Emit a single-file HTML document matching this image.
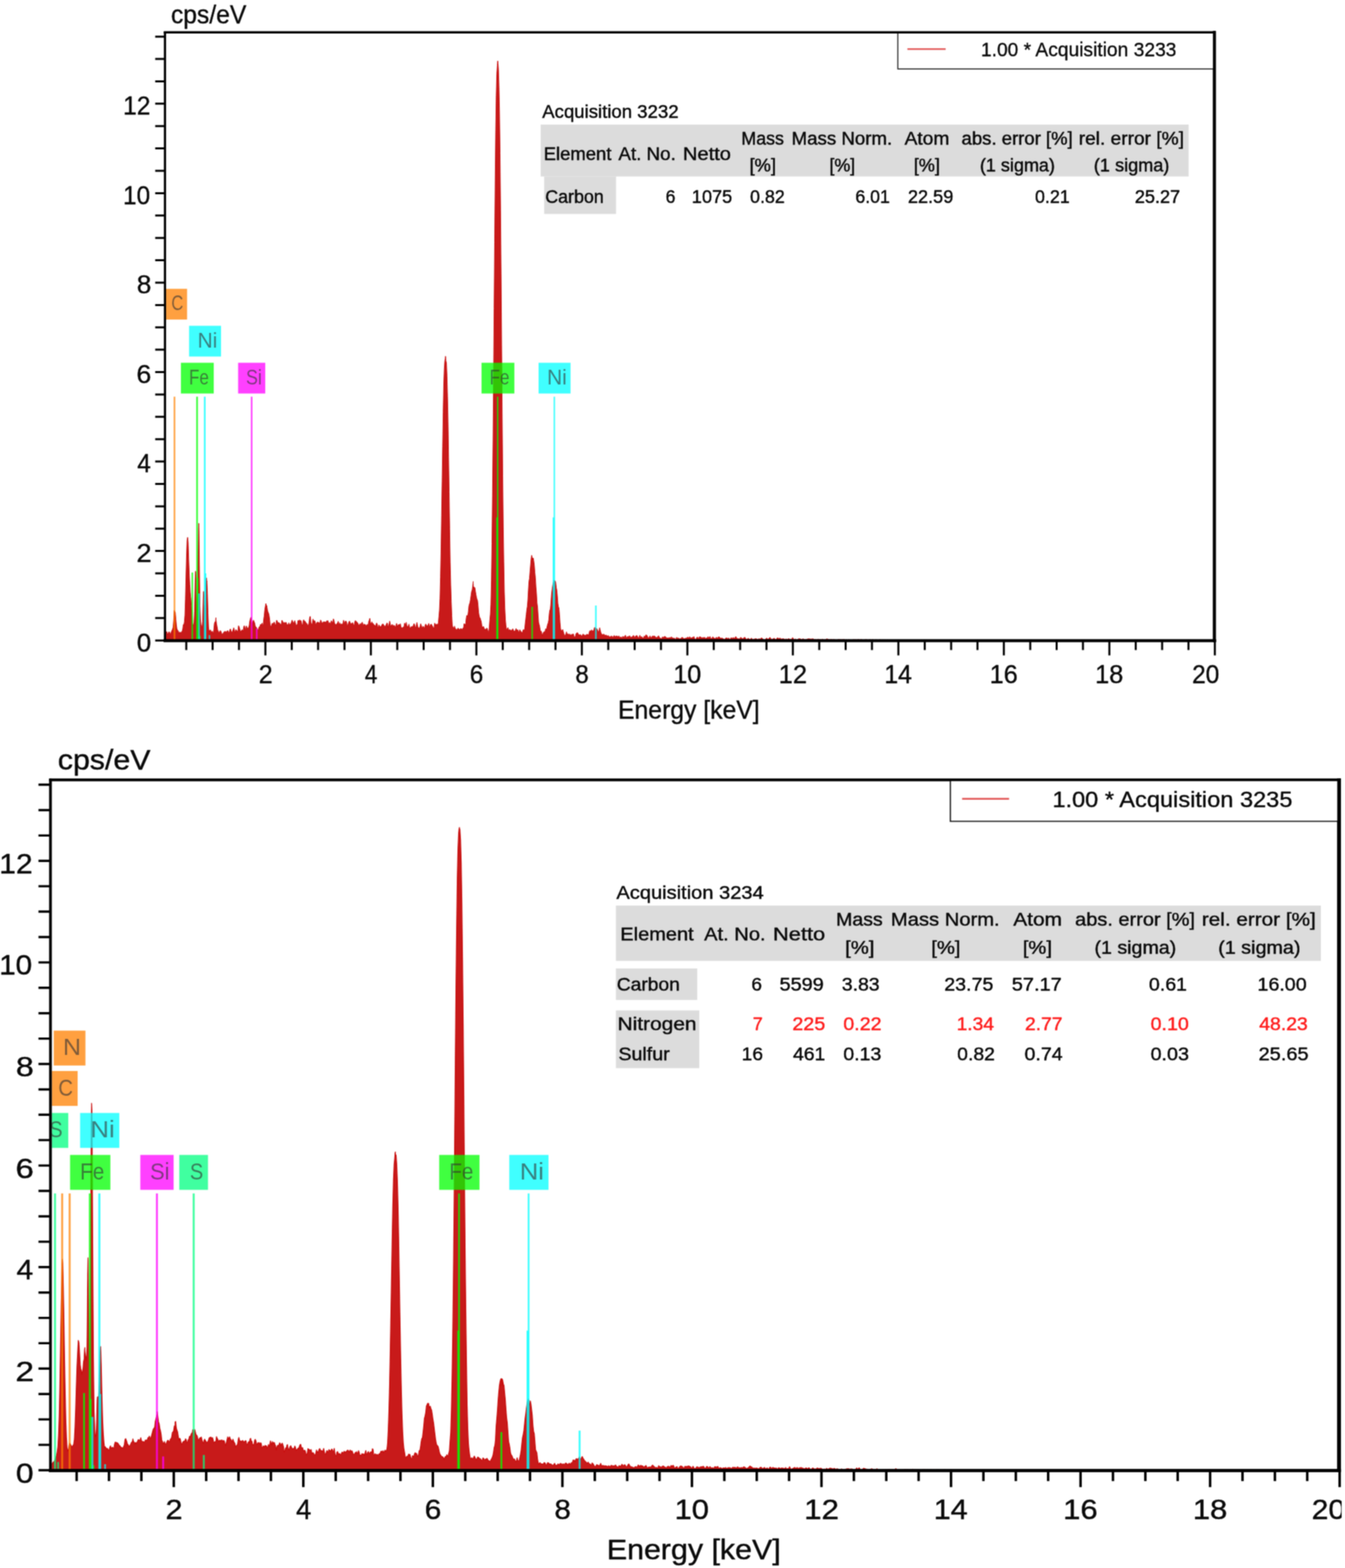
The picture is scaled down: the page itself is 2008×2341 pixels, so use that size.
<!DOCTYPE html>
<html lang="en"><head><meta charset="utf-8"><title>EDS spectra</title>
<style>
html,body{margin:0;padding:0;background:#fff;overflow:hidden}
svg{display:block}
text{font-family:"Liberation Sans",sans-serif;}
</style></head><body>
<svg width="2008" height="2341" viewBox="0 0 2008 2341">
<rect width="2008" height="2341" fill="#fff"/>
<filter id="soft" x="0" y="0" width="2008" height="2341" filterUnits="userSpaceOnUse" color-interpolation-filters="sRGB"><feConvolveMatrix order="3" kernelMatrix="1 2 1 2 4 2 1 2 1" divisor="16" edgeMode="duplicate" preserveAlpha="false"/></filter>
<g filter="url(#soft)">
<clipPath id="c2clip"><rect x="0" y="1090" width="2003" height="1251"/></clipPath>
<g id="chart1">
<clipPath id="clip1"><rect x="247.9" y="48.4" width="1565.5" height="907.8"/></clipPath>
<g clip-path="url(#clip1)">
<path d="M247.3,956.2L247.3,946.0L248.1,943.8L248.9,942.8L249.7,945.4L250.5,947.0L251.3,945.1L252.1,943.3L252.9,943.4L253.7,946.8L254.5,947.2L255.3,944.2L256.1,942.8L256.9,940.8L257.7,939.1L258.5,936.1L259.3,926.1L260.1,911.4L260.7,912.2L260.9,915.5L261.1,915.6L261.5,913.7L261.7,914.5L262.5,924.3L263.3,933.1L264.1,938.6L264.9,940.7L265.7,941.2L266.5,943.6L267.3,945.8L268.1,943.5L268.9,944.7L269.7,944.2L270.5,944.5L271.3,942.8L272.1,942.3L272.9,938.4L273.7,932.5L274.5,933.3L275.3,928.5L276.1,918.8L276.9,894.4L277.7,861.1L278.5,830.0L279.3,806.8L279.4,806.2L279.8,804.0L280.1,802.2L280.2,802.7L280.9,810.0L281.7,834.5L282.5,855.9L283.3,872.4L283.8,880.0L284.1,885.7L284.2,885.5L284.6,891.0L284.9,892.7L285.7,904.7L286.5,918.5L287.3,929.1L288.1,932.5L288.9,934.0L289.7,930.0L290.5,912.3L291.3,869.5L291.5,861.7L291.9,852.7L292.1,854.5L292.3,859.0L292.9,887.9L293.7,911.9L294.5,906.2L295.0,885.7L295.3,865.6L295.4,859.2L295.8,827.6L296.1,804.3L296.3,790.0L296.7,781.2L296.9,782.0L297.1,791.8L297.7,842.9L298.5,904.3L299.3,923.9L300.1,932.7L300.9,935.5L301.7,936.2L302.5,927.5L303.3,894.8L303.7,883.9L304.1,882.7L304.1,883.1L304.5,888.7L304.9,902.2L305.7,915.5L306.5,903.8L307.3,879.4L308.0,865.5L308.1,865.2L308.4,862.8L308.8,868.5L308.9,867.6L309.7,886.5L310.5,915.2L311.3,936.0L312.1,941.8L312.9,941.7L313.7,940.8L314.5,940.6L315.3,944.0L316.1,943.5L316.9,942.4L317.7,944.5L318.5,946.4L319.3,939.2L320.1,930.8L320.9,928.5L321.6,930.5L321.7,930.1L322.0,926.0L322.4,922.1L322.5,925.5L323.3,931.5L324.1,935.4L324.9,940.4L325.7,941.4L326.5,944.9L327.3,945.3L328.1,942.8L328.9,941.4L329.7,942.3L330.5,944.3L331.3,947.3L332.1,946.5L332.9,945.6L333.7,944.7L334.5,943.2L335.3,943.4L336.1,942.3L336.9,943.0L337.7,943.7L338.5,942.9L339.3,941.8L340.1,941.5L340.9,943.3L341.7,944.2L342.5,944.2L343.3,939.6L344.1,939.0L344.9,941.9L345.7,943.7L346.5,944.3L347.3,942.1L348.1,939.9L348.9,937.3L349.7,940.1L350.5,944.0L351.3,945.2L352.1,939.8L352.9,940.6L353.7,943.4L354.5,942.2L355.3,941.2L356.1,934.1L356.9,935.5L357.7,938.2L358.5,941.0L359.3,943.7L360.1,941.7L360.9,941.6L361.7,939.8L362.5,942.8L363.3,940.5L364.1,934.8L364.9,934.1L365.7,939.6L366.5,940.3L367.3,935.3L368.1,934.6L368.9,937.8L369.7,937.9L370.5,937.2L371.3,936.8L372.1,933.3L372.9,927.2L373.7,924.2L374.5,921.6L375.3,925.1L375.3,927.7L375.7,929.1L376.1,928.8L376.1,931.5L376.9,932.3L377.7,927.3L378.5,925.8L379.3,928.0L380.1,929.7L380.9,933.6L381.7,936.6L382.5,936.3L383.3,937.5L384.1,939.9L384.9,941.4L385.7,940.2L386.5,936.6L387.3,935.5L388.1,935.2L388.9,932.1L389.7,932.8L390.5,931.7L391.3,930.3L392.1,933.6L392.9,933.2L393.7,924.6L394.5,919.2L395.3,910.5L396.1,905.5L396.9,901.0L397.3,902.5L397.7,907.3L398.1,903.9L398.5,906.0L399.3,910.6L400.1,913.7L400.9,915.4L401.7,918.6L402.5,924.1L403.3,932.3L404.1,934.6L404.9,936.9L405.7,932.6L406.5,930.3L407.3,932.1L408.1,930.6L408.9,929.2L409.7,928.8L410.5,932.4L411.3,933.8L412.1,931.6L412.9,926.0L413.7,926.5L414.5,929.6L415.3,929.7L416.1,929.6L416.9,929.7L417.7,930.7L418.5,932.0L419.3,933.8L420.1,931.1L420.9,926.0L421.7,927.1L422.5,929.3L423.3,930.1L424.1,929.3L424.9,929.2L425.7,930.6L426.5,929.3L427.3,929.2L428.1,931.6L428.9,932.6L429.7,933.1L430.5,931.8L431.3,929.7L432.1,934.3L432.9,932.0L433.7,931.1L434.5,930.8L435.3,928.1L436.1,925.8L436.9,927.6L437.7,929.4L438.5,930.3L439.3,928.5L440.1,926.6L440.9,929.5L441.7,932.5L442.5,933.2L443.3,933.1L444.1,931.6L444.9,926.3L445.7,926.6L446.5,927.3L447.3,925.4L448.1,928.1L448.9,926.3L449.7,927.0L450.5,932.8L451.3,934.2L452.1,931.2L452.9,925.8L453.7,925.4L454.5,929.5L455.3,927.1L456.1,928.8L456.9,930.2L457.7,930.4L458.5,931.2L459.3,934.1L460.1,933.5L460.9,932.0L461.7,926.6L462.5,920.8L463.3,920.4L464.1,928.6L464.9,933.5L465.7,931.8L466.5,929.7L467.3,924.1L468.1,926.2L468.9,929.2L469.7,926.6L470.5,928.0L471.3,932.7L472.1,931.6L472.9,929.8L473.7,928.8L474.5,928.7L475.3,929.4L476.1,929.2L476.9,930.9L477.7,930.4L478.5,925.7L479.3,926.5L480.1,929.0L480.9,932.7L481.7,930.1L482.5,928.3L483.3,930.8L484.1,927.9L484.9,929.0L485.7,928.7L486.5,929.1L487.3,927.9L488.1,926.6L488.9,928.2L489.7,926.6L490.5,930.9L491.3,931.8L492.1,929.4L492.9,931.9L493.7,930.6L494.5,926.8L495.3,927.5L496.1,932.6L496.9,928.4L497.7,923.9L498.5,925.6L499.3,930.0L500.1,931.8L500.9,932.0L501.7,933.2L502.5,931.7L503.3,930.8L504.1,929.6L504.9,927.6L505.7,930.9L506.5,933.0L507.3,929.7L508.1,932.3L508.9,932.3L509.7,931.2L510.5,932.1L511.3,933.2L512.1,930.1L512.9,925.9L513.7,930.3L514.5,930.4L515.3,927.4L516.1,927.3L516.9,927.5L517.7,929.5L518.5,935.3L519.3,934.2L520.1,930.7L520.9,928.5L521.7,927.0L522.5,928.9L523.3,931.0L524.1,931.2L524.9,931.2L525.7,930.0L526.5,929.5L527.3,931.9L528.1,933.9L528.9,932.9L529.7,928.2L530.5,926.5L531.3,927.2L532.1,927.8L532.9,928.7L533.7,930.1L534.5,930.6L535.3,933.5L536.1,933.3L536.9,932.8L537.7,930.8L538.5,932.4L539.3,931.9L540.1,929.7L540.9,928.8L541.7,933.2L542.5,933.8L543.3,931.4L544.1,933.3L544.9,932.0L545.7,932.9L546.5,933.9L547.3,935.6L548.1,932.1L548.9,933.3L549.7,932.9L550.5,927.4L551.3,926.1L552.1,923.1L552.9,928.8L553.7,932.6L554.5,931.0L555.3,928.4L556.1,930.7L556.9,930.8L557.7,931.4L558.5,933.9L559.3,933.1L560.1,934.3L560.9,934.9L561.7,930.8L562.5,930.2L563.3,932.4L564.1,936.0L564.9,937.4L565.7,933.0L566.5,933.7L567.3,936.5L568.1,935.1L568.9,936.1L569.7,933.7L570.5,932.1L571.3,931.6L572.1,931.8L572.9,933.0L573.7,935.5L574.5,934.9L575.3,934.4L576.1,933.5L576.9,931.9L577.7,930.0L578.5,930.6L579.3,937.2L580.1,934.1L580.9,931.4L581.7,927.2L582.5,930.4L583.3,935.7L584.1,933.7L584.9,933.2L585.7,932.0L586.5,934.8L587.3,934.2L588.1,933.6L588.9,933.9L589.7,935.9L590.5,937.4L591.3,932.8L592.1,930.7L592.9,933.4L593.7,935.5L594.5,933.2L595.3,932.0L596.1,933.3L596.9,932.5L597.7,931.1L598.5,935.3L599.3,937.0L600.1,938.7L600.9,937.0L601.7,936.4L602.5,936.8L603.3,934.5L604.1,930.2L604.9,932.8L605.7,932.4L606.5,928.9L607.3,933.5L608.1,937.3L608.9,934.8L609.7,934.3L610.5,931.7L611.3,935.8L612.1,937.2L612.9,937.8L613.7,935.6L614.5,936.1L615.3,935.1L616.1,935.3L616.9,934.9L617.7,931.6L618.5,931.2L619.3,933.8L620.1,936.8L620.9,936.9L621.7,932.5L622.5,929.0L623.3,934.0L624.1,936.7L624.9,937.1L625.7,937.8L626.5,937.3L627.3,934.4L628.1,931.3L628.9,933.6L629.7,936.6L630.5,938.1L631.3,935.1L632.1,935.2L632.9,937.9L633.7,937.7L634.5,934.6L635.3,931.8L636.1,932.2L636.9,933.8L637.7,934.9L638.5,934.1L639.3,932.8L640.1,930.7L640.9,935.8L641.7,935.4L642.5,932.4L643.3,933.3L644.1,931.8L644.9,933.7L645.7,934.7L646.5,936.5L647.3,938.8L648.1,936.3L648.9,930.3L649.7,931.5L650.5,932.6L651.3,932.1L652.1,932.2L652.9,931.9L653.7,932.8L654.5,929.4L655.3,920.4L656.1,911.2L656.9,893.5L657.7,861.5L658.5,820.0L659.3,769.5L660.1,718.5L660.9,666.5L661.7,615.7L662.5,574.0L663.3,551.2L664.1,539.2L664.7,535.6L664.9,534.2L665.1,531.8L665.5,533.1L665.7,538.5L666.5,541.8L667.3,561.2L668.1,591.4L668.9,629.2L669.7,682.5L670.5,734.4L671.3,789.3L672.1,839.8L672.9,873.7L673.7,898.6L674.5,919.6L675.3,934.1L676.1,935.9L676.9,937.3L677.7,938.2L678.5,934.7L679.3,937.2L680.1,939.0L680.9,939.3L681.7,940.3L682.5,940.1L683.3,938.3L684.1,937.8L684.9,939.0L685.7,939.6L686.5,940.6L687.3,938.5L688.1,939.0L688.9,938.6L689.7,939.7L690.5,938.9L691.3,937.7L692.1,936.9L692.9,931.0L693.7,932.4L694.5,933.1L695.3,930.7L696.1,922.8L696.9,918.7L697.7,919.3L698.5,919.3L699.3,912.6L700.1,904.6L700.9,901.8L701.7,899.3L702.5,894.6L703.3,888.5L704.1,883.1L704.9,880.9L705.7,875.6L706.5,867.9L706.5,870.6L706.9,877.6L707.3,876.7L707.3,876.4L708.1,877.0L708.9,877.1L709.7,882.4L710.5,887.2L711.3,891.5L712.1,894.6L712.9,896.4L713.7,903.8L714.5,914.2L715.3,918.9L716.1,922.1L716.9,922.7L717.7,925.6L718.5,928.1L719.3,933.4L720.1,938.1L720.9,935.7L721.7,935.2L722.5,936.7L723.3,939.7L724.1,939.0L724.9,939.8L725.7,939.8L726.5,937.8L727.3,938.0L728.1,940.9L728.9,943.5L729.7,943.4L730.5,936.1L731.3,925.5L732.1,917.2L732.9,902.2L733.7,866.2L734.5,811.4L735.3,740.5L736.1,657.2L736.9,562.4L737.7,460.5L738.5,361.3L739.3,269.2L740.1,194.8L740.9,142.6L741.7,110.4L742.5,97.8L742.7,94.4L743.1,90.9L743.3,92.2L743.5,94.7L744.1,103.3L744.9,127.4L745.7,166.2L746.5,228.5L747.3,313.9L748.1,408.8L748.9,514.8L749.7,616.8L750.5,710.2L751.3,786.0L752.1,838.8L752.9,883.2L753.7,908.1L754.5,925.1L755.3,933.7L756.1,939.3L756.9,940.3L757.7,937.7L758.5,937.1L759.3,941.3L760.1,940.9L760.9,939.7L761.7,941.3L762.5,940.8L763.3,941.9L764.1,940.5L764.9,939.5L765.7,938.8L766.5,940.9L767.3,943.1L768.1,941.8L768.9,942.8L769.7,940.2L770.5,938.3L771.3,940.3L772.1,941.9L772.9,940.1L773.7,941.8L774.5,944.4L775.3,942.7L776.1,940.1L776.9,941.9L777.7,942.5L778.5,943.8L779.3,945.6L780.1,943.5L780.9,940.8L781.7,939.8L782.5,940.4L783.3,940.2L784.1,931.3L784.9,924.6L785.7,917.6L786.5,910.3L787.3,905.4L788.1,896.0L788.9,881.2L789.7,868.3L790.5,863.5L791.3,853.2L792.1,844.0L792.9,834.4L793.7,828.9L794.4,832.2L794.5,835.0L794.8,832.7L795.2,833.7L795.3,835.3L796.1,833.1L796.9,837.7L797.7,843.9L798.5,854.5L799.3,862.4L800.1,876.1L800.9,885.9L801.7,899.9L802.5,906.0L803.3,918.1L804.1,929.2L804.9,932.2L805.7,935.5L806.5,940.7L807.3,942.4L808.1,942.5L808.9,945.4L809.7,949.5L810.5,946.6L811.3,944.0L812.1,943.4L812.9,943.0L813.7,943.2L814.5,938.9L815.3,939.1L816.1,938.7L816.9,934.9L817.7,931.6L818.5,929.7L819.3,925.4L820.1,915.9L820.9,910.9L821.7,909.1L822.5,900.0L823.3,888.2L824.1,881.1L824.9,875.4L825.7,870.9L826.5,868.4L827.2,866.1L827.3,870.4L827.6,871.1L828.0,868.8L828.1,867.1L828.9,867.3L829.7,869.9L830.5,877.3L831.3,881.1L832.1,889.7L832.9,901.0L833.7,905.9L834.5,908.0L835.3,917.7L836.1,929.9L836.9,939.0L837.7,940.5L838.5,941.8L839.3,941.3L840.1,939.8L840.9,942.7L841.7,945.5L842.5,948.2L843.3,948.9L844.1,947.9L844.9,946.3L845.7,943.2L846.5,946.6L847.3,947.7L848.1,945.9L848.9,947.2L849.7,948.4L850.5,946.3L851.3,947.9L852.1,949.3L852.9,947.5L853.7,946.9L854.5,947.5L855.3,946.4L856.1,946.6L856.9,949.5L857.7,952.0L858.5,952.0L859.3,948.5L860.1,945.8L860.9,945.3L861.7,944.7L862.5,944.8L863.3,946.6L864.1,947.2L864.9,949.3L865.7,947.6L866.5,947.3L867.3,948.2L868.1,949.2L868.9,949.7L869.7,947.8L870.5,946.5L871.3,947.7L872.1,947.7L872.9,948.5L873.7,948.2L874.5,948.7L875.3,947.5L876.1,947.2L876.9,946.8L877.7,947.8L878.5,948.3L879.3,946.1L880.1,942.7L880.9,941.4L881.7,942.9L882.5,941.4L883.3,940.3L884.1,941.4L884.9,943.4L885.7,941.4L886.5,940.8L887.3,937.4L888.1,936.6L888.9,939.0L889.2,943.2L889.6,939.0L889.7,938.1L890.0,940.5L890.5,938.1L891.3,938.8L892.1,940.6L892.9,942.4L893.7,943.5L894.5,941.2L895.3,937.1L896.1,940.9L896.9,943.8L897.7,945.9L898.5,946.9L899.3,947.6L900.1,947.7L900.9,946.5L901.7,947.2L902.5,947.6L903.3,949.2L904.1,948.1L904.9,948.4L905.7,948.4L906.5,949.6L907.3,950.2L908.1,948.7L908.9,949.8L909.7,950.5L910.5,950.9L911.3,950.2L912.1,950.3L912.9,949.7L913.7,949.8L914.5,951.3L915.3,951.9L916.1,949.9L916.9,948.7L917.7,949.5L918.5,951.1L919.3,949.9L920.1,949.5L920.9,949.7L921.7,949.8L922.5,950.5L923.3,949.9L924.1,949.4L924.9,951.1L925.7,952.3L926.5,951.0L927.3,950.9L928.1,952.7L928.9,951.7L929.7,950.1L930.5,950.4L931.3,950.9L932.1,951.6L932.9,949.4L933.7,948.3L934.5,950.4L935.3,951.9L936.1,951.8L936.9,950.0L937.7,950.5L938.5,951.1L939.3,949.4L940.1,949.2L940.9,950.4L941.7,952.5L942.5,951.3L943.3,950.6L944.1,951.6L944.9,949.7L945.7,948.6L946.5,949.5L947.3,951.5L948.1,951.6L948.9,949.8L949.7,949.0L950.5,948.8L951.3,949.2L952.1,950.8L952.9,952.1L953.7,952.8L954.5,950.0L955.3,948.4L956.1,950.8L956.9,951.4L957.7,950.4L958.5,950.9L959.3,952.6L960.1,952.7L960.9,951.8L961.7,949.6L962.5,950.8L963.3,949.8L964.1,948.1L964.9,947.9L965.7,948.4L966.5,949.4L967.3,952.0L968.1,952.2L968.9,952.2L969.7,950.8L970.5,949.1L971.3,951.9L972.1,951.7L972.9,951.9L973.7,949.8L974.5,949.6L975.3,950.6L976.1,949.3L976.9,950.1L977.7,949.8L978.5,950.8L979.3,951.9L980.1,952.0L980.9,951.4L981.7,950.7L982.5,950.2L983.3,949.0L984.1,951.0L984.9,952.2L985.7,952.6L986.5,953.0L987.3,953.5L988.1,952.7L988.9,950.9L989.7,951.2L990.5,951.5L991.3,950.9L992.1,950.1L992.9,950.3L993.7,950.8L994.5,952.0L995.3,952.3L996.1,952.5L996.9,952.2L997.7,952.6L998.5,952.3L999.3,952.0L1000.1,952.0L1000.9,952.2L1001.7,951.8L1002.5,950.7L1003.3,952.0L1004.1,952.8L1004.9,952.2L1005.7,953.1L1006.5,953.2L1007.3,952.6L1008.1,954.5L1008.9,955.4L1009.7,952.2L1010.5,951.3L1011.3,953.4L1012.1,953.1L1012.9,952.2L1013.7,953.9L1014.5,953.8L1015.3,953.4L1016.1,953.1L1016.9,953.6L1017.7,951.7L1018.5,951.7L1019.3,951.8L1020.1,952.9L1020.9,954.2L1021.7,953.2L1022.5,953.3L1023.3,952.7L1024.1,952.9L1024.9,952.7L1025.7,952.1L1026.5,951.2L1027.3,951.4L1028.1,952.8L1028.9,952.0L1029.7,950.6L1030.5,951.4L1031.3,952.7L1032.1,952.6L1032.9,952.2L1033.7,951.4L1034.5,951.7L1035.3,951.1L1036.1,950.4L1036.9,953.1L1037.7,954.1L1038.5,954.7L1039.3,954.0L1040.1,951.9L1040.9,951.2L1041.7,951.3L1042.5,953.9L1043.3,953.3L1044.1,950.9L1044.9,950.7L1045.7,950.9L1046.5,951.3L1047.3,952.1L1048.1,952.4L1048.9,952.1L1049.7,951.7L1050.5,952.2L1051.3,951.7L1052.1,951.4L1052.9,953.3L1053.7,953.3L1054.5,952.3L1055.3,952.6L1056.1,952.1L1056.9,950.5L1057.7,951.6L1058.5,952.4L1059.3,950.9L1060.1,950.3L1060.9,953.0L1061.7,953.5L1062.5,952.9L1063.3,952.5L1064.1,950.7L1064.9,951.6L1065.7,952.7L1066.5,952.6L1067.3,953.4L1068.1,953.4L1068.9,952.1L1069.7,951.2L1070.5,953.9L1071.3,952.6L1072.1,951.2L1072.9,951.1L1073.7,950.7L1074.5,951.8L1075.3,952.5L1076.1,953.1L1076.9,953.1L1077.7,952.0L1078.5,953.4L1079.3,953.4L1080.1,953.5L1080.9,954.3L1081.7,955.1L1082.5,953.8L1083.3,952.8L1084.1,952.5L1084.9,952.2L1085.7,953.0L1086.5,953.4L1087.3,952.7L1088.1,952.6L1088.9,954.0L1089.7,954.8L1090.5,954.0L1091.3,952.1L1092.1,952.1L1092.9,953.5L1093.7,953.0L1094.5,951.9L1095.3,951.9L1096.1,953.3L1096.9,953.1L1097.7,951.3L1098.5,950.3L1099.3,951.5L1100.1,953.5L1100.9,953.2L1101.7,953.3L1102.5,953.5L1103.3,953.9L1104.1,953.8L1104.9,952.8L1105.7,951.6L1106.5,952.0L1107.3,952.7L1108.1,953.3L1108.9,953.9L1109.7,953.3L1110.5,952.1L1111.3,951.8L1112.1,951.4L1112.9,952.6L1113.7,953.7L1114.5,954.5L1115.3,953.9L1116.1,954.2L1116.9,952.8L1117.7,953.5L1118.5,953.9L1119.3,954.6L1120.1,954.4L1120.9,954.0L1121.7,952.7L1122.5,953.2L1123.3,954.8L1124.1,955.3L1124.9,954.1L1125.7,954.1L1126.5,954.3L1127.3,953.4L1128.1,953.5L1128.9,953.6L1129.7,954.1L1130.5,954.2L1131.3,954.4L1132.1,954.7L1132.9,953.4L1133.7,953.5L1134.5,954.8L1135.3,953.6L1136.1,952.6L1136.9,952.8L1137.7,952.6L1138.5,953.5L1139.3,954.0L1140.1,954.8L1140.9,955.1L1141.7,955.5L1142.5,954.7L1143.3,953.6L1144.1,953.0L1144.9,952.7L1145.7,953.6L1146.5,954.3L1147.3,953.7L1148.1,953.3L1148.9,952.0L1149.7,951.7L1150.5,952.9L1151.3,954.5L1152.1,954.4L1152.9,954.0L1153.7,954.2L1154.5,953.5L1155.3,953.0L1156.1,953.0L1156.9,953.7L1157.7,954.6L1158.5,954.7L1159.3,953.9L1160.1,952.6L1160.9,952.2L1161.7,952.8L1162.5,953.3L1163.3,953.2L1164.1,952.9L1164.9,952.7L1165.7,953.4L1166.5,954.6L1167.3,953.6L1168.1,953.6L1168.9,954.1L1169.7,953.7L1170.5,953.7L1171.3,954.4L1172.1,955.2L1172.9,954.2L1173.7,953.7L1174.5,954.3L1175.3,955.1L1176.1,954.0L1176.9,953.5L1177.7,953.7L1178.5,953.9L1179.3,954.4L1180.1,954.6L1180.9,954.0L1181.7,954.3L1182.5,953.4L1183.3,951.8L1184.1,953.0L1184.9,954.3L1185.7,955.2L1186.5,954.4L1187.3,953.9L1188.1,954.6L1188.9,955.1L1189.7,955.7L1190.5,954.5L1191.3,954.4L1192.1,953.7L1192.9,953.3L1193.7,953.9L1194.5,953.7L1195.3,954.0L1196.1,954.5L1196.9,954.8L1197.7,954.7L1198.5,953.6L1199.3,953.8L1200.1,954.7L1200.9,954.3L1201.7,955.0L1202.5,955.3L1203.3,954.3L1204.1,954.8L1204.9,954.0L1205.7,953.9L1206.5,953.8L1207.3,953.8L1208.1,953.6L1208.9,954.0L1209.7,954.1L1210.5,954.0L1211.3,953.9L1212.1,954.4L1212.9,953.7L1213.7,953.5L1214.5,954.2L1215.3,954.5L1216.1,954.9L1216.9,954.8L1217.7,954.6L1218.5,955.0L1219.3,955.2L1220.1,954.8L1220.9,954.5L1221.7,954.3L1222.5,954.6L1223.3,955.3L1224.1,954.3L1224.9,954.7L1225.7,955.3L1226.5,955.0L1227.3,954.4L1228.1,954.3L1228.9,954.8L1229.7,955.1L1230.5,955.6L1231.3,955.0L1232.1,954.9L1232.9,954.9L1233.7,954.1L1234.5,953.5L1235.3,954.1L1236.1,954.8L1236.9,954.2L1237.7,954.8L1238.5,955.1L1239.3,955.1L1240.1,954.7L1240.9,954.5L1241.7,954.8L1242.5,955.1L1243.3,955.1L1244.1,955.0L1244.9,954.6L1245.7,955.1L1246.5,955.2L1247.3,955.3L1248.1,955.5L1248.9,955.5L1249.7,955.7L1250.5,955.0L1251.3,954.8L1252.1,954.9L1252.9,954.5L1253.7,955.1L1254.5,954.9L1255.3,954.9L1256.1,955.3L1256.9,955.2L1257.7,954.7L1258.5,954.9L1259.3,954.8L1260.1,954.4L1260.9,955.1L1261.7,956.1L1262.5,955.7L1263.3,955.0L1264.1,955.3L1264.9,956.0L1265.7,956.2L1266.5,955.2L1267.3,954.7L1268.1,955.9L1268.9,956.2L1269.7,955.4L1270.5,955.5L1271.3,955.5L1272.1,955.6L1272.9,955.7L1273.7,955.1L1274.5,954.8L1275.3,955.1L1276.1,955.4L1276.9,955.0L1277.7,955.1L1278.5,955.2L1279.3,955.6L1280.1,955.1L1280.9,954.8L1281.7,954.7L1282.5,955.1L1283.3,955.3L1284.1,955.4L1284.9,955.0L1285.7,954.8L1286.5,954.9L1287.3,955.6L1288.1,956.0L1288.9,955.6L1289.7,955.6L1290.5,955.7L1291.3,955.2L1292.1,954.9L1292.9,955.0L1293.7,954.9L1294.5,955.3L1295.3,955.9L1296.1,955.9L1296.9,955.6L1297.7,955.2L1298.5,955.0L1299.3,955.2L1300.1,955.2L1300.9,955.7L1301.7,955.5L1302.5,954.9L1303.3,955.1L1304.1,955.3L1304.9,956.2L1305.7,956.2L1306.5,956.0L1307.3,955.1L1308.1,954.9L1308.9,955.7L1309.7,956.1L1310.5,956.2L1311.3,956.0L1312.1,955.6L1312.9,955.5L1313.7,954.9L1314.5,955.3L1315.3,955.8L1316.1,955.7L1316.9,955.6L1317.7,955.3L1318.5,955.3L1319.3,955.6L1320.1,955.4L1320.9,955.4L1321.7,955.6L1322.5,955.6L1323.3,955.5L1324.1,955.8L1324.9,955.8L1325.7,955.4L1326.5,955.7L1327.3,955.9L1328.1,955.8L1328.9,956.2L1329.7,956.0L1330.5,956.2L1331.3,956.2L1332.1,956.2L1332.9,956.1L1333.7,955.6L1334.5,955.9L1335.3,956.0L1336.1,955.5L1336.9,955.7L1337.7,955.5L1338.5,956.0L1339.3,956.1L1340.1,955.5L1340.9,955.7L1341.7,955.6L1342.5,955.6L1343.3,956.1L1344.1,956.0L1344.9,956.0L1345.7,955.8L1346.5,956.0L1347.3,956.2L1348.1,955.9L1348.9,955.7L1349.7,955.9L1350.5,955.8L1351.3,956.0L1352.1,955.9L1352.9,955.8L1353.7,955.8L1354.5,955.5L1355.3,955.6L1356.1,955.6L1356.9,955.7L1357.7,955.9L1358.5,956.1L1359.3,955.7L1360.1,955.5L1360.9,955.8L1361.7,956.0L1362.5,955.9L1363.3,955.7L1364.1,955.9L1364.9,956.2L1365.7,956.2L1366.5,956.2L1367.3,956.2L1368.1,956.2L1368.9,956.1L1369.7,955.7L1370.5,955.8L1371.3,956.2L1372.1,956.2L1372.9,956.2L1373.7,956.2L1374.5,956.2L1375.3,956.1L1376.1,956.2L1376.9,956.0L1377.7,955.9L1378.5,956.1L1379.3,956.2L1380.1,956.1L1380.9,956.2L1381.7,956.2L1382.5,956.2L1383.3,956.1L1384.1,956.1L1384.9,956.2L1385.7,956.2L1386.5,956.2L1387.3,956.1L1388.1,955.8L1388.9,956.1L1389.7,956.0L1390.5,956.0L1391.3,956.1L1392.1,956.1L1392.9,956.1L1393.7,956.0L1394.5,956.0L1395.3,956.1L1396.1,956.2L1396.9,956.2L1397.7,956.2L1398.5,956.2L1399.3,956.2L1400.1,956.1L1400.9,956.2L1401.7,956.2L1402.5,956.2L1403.3,956.2L1404.1,956.2L1404.9,956.2L1405.7,956.2L1406.5,956.2L1407.3,956.2L1408.1,956.2L1408.9,956.2L1409.7,956.2L1410.5,956.2L1411.3,956.2L1412.1,956.2L1412.9,956.2L1413.7,956.2L1414.5,956.2L1415.3,956.2L1416.1,956.2L1416.9,956.2L1417.7,956.2L1418.5,956.2L1419.3,956.2L1420.1,956.2L1420.9,956.2L1421.7,956.2L1422.5,956.2L1423.3,956.2L1424.1,956.2L1424.9,956.2L1425.7,956.2L1426.5,956.2L1427.3,956.2L1428.1,956.2L1428.9,956.2L1429.7,956.2L1430.5,956.2L1431.3,956.2L1432.1,956.2L1432.9,956.2L1433.7,956.2L1434.5,956.2L1435.3,956.2L1436.1,956.2L1436.9,956.2L1437.7,956.2L1438.5,956.2L1439.3,956.2L1440.1,956.2L1440.9,956.2L1441.7,956.2L1442.5,956.2L1443.3,956.2L1444.1,956.2L1444.9,956.2L1445.7,956.2L1446.5,956.2L1447.3,956.2L1448.1,956.2L1448.9,956.2L1449.7,956.2L1450.5,956.2L1451.3,956.2L1452.1,956.2L1452.9,956.2L1453.7,956.2L1454.5,956.2L1455.3,956.2L1456.1,956.2L1456.9,956.2L1457.7,956.2L1458.5,956.2L1459.3,956.2L1460.1,956.2L1460.9,956.2L1461.7,956.2L1462.5,956.2L1463.3,956.2L1464.1,956.2L1464.9,956.2L1465.7,956.2L1466.5,956.2L1467.3,956.2L1468.1,956.2L1468.9,956.2L1469.7,956.2L1470.5,956.2L1471.3,956.2L1472.1,956.2L1472.9,956.2L1473.7,956.2L1474.5,956.2L1475.3,956.2L1476.1,956.2L1476.9,956.2L1477.7,956.2L1478.5,956.2L1479.3,956.2L1480.1,956.2L1480.9,956.2L1481.7,956.2L1482.5,956.2L1483.3,956.2L1484.1,956.2L1484.9,956.2L1485.7,956.2L1486.5,956.2L1487.3,956.2L1488.1,956.2L1488.9,956.2L1489.7,956.2L1490.5,956.2L1491.3,956.2L1492.1,956.2L1492.9,956.2L1493.7,956.2L1494.5,956.2L1495.3,956.2L1496.1,956.2L1496.9,956.2L1497.7,956.2L1498.5,956.2L1499.3,956.2L1500.1,956.2L1500.9,956.2L1501.7,956.2L1502.5,956.2L1503.3,956.2L1504.1,956.2L1504.9,956.2L1505.7,956.2L1506.5,956.2L1507.3,956.2L1508.1,956.2L1508.9,956.2L1509.7,956.2L1510.5,956.2L1511.3,956.2L1512.1,956.2L1512.9,956.2L1513.7,956.2L1514.5,956.2L1515.3,956.2L1516.1,956.2L1516.9,956.2L1517.7,956.2L1518.5,956.2L1519.3,956.2L1520.1,956.2L1520.9,956.2L1521.7,956.2L1522.5,956.2L1523.3,956.2L1524.1,956.2L1524.9,956.2L1525.7,956.2L1526.5,956.2L1527.3,956.2L1528.1,956.2L1528.9,956.2L1529.7,956.2L1530.5,956.2L1531.3,956.2L1532.1,956.2L1532.9,956.2L1533.7,956.2L1534.5,956.2L1535.3,956.2L1536.1,956.2L1536.9,956.2L1537.7,956.2L1538.5,956.2L1539.3,956.2L1540.1,956.2L1540.9,956.2L1541.7,956.2L1542.5,956.2L1543.3,956.2L1544.1,956.2L1544.9,956.2L1545.7,956.2L1546.5,956.2L1547.3,956.2L1548.1,956.2L1548.9,956.2L1549.7,956.2L1550.5,956.2L1551.3,956.2L1552.1,956.2L1552.9,956.2L1553.7,956.2L1554.5,956.2L1555.3,956.2L1556.1,956.2L1556.9,956.2L1557.7,956.2L1558.5,956.2L1559.3,956.2L1560.1,956.2L1560.9,956.2L1561.7,956.2L1562.5,956.2L1563.3,956.2L1564.1,956.2L1564.9,956.2L1565.7,956.2L1566.5,956.2L1567.3,956.2L1568.1,956.2L1568.9,956.2L1569.7,956.2L1570.5,956.2L1571.3,956.2L1572.1,956.2L1572.9,956.2L1573.7,956.2L1574.5,956.2L1575.3,956.2L1576.1,956.2L1576.9,956.2L1577.7,956.2L1578.5,956.2L1579.3,956.2L1580.1,956.2L1580.9,956.2L1581.7,956.2L1582.5,956.2L1583.3,956.2L1584.1,956.2L1584.9,956.2L1585.7,956.2L1586.5,956.2L1587.3,956.2L1588.1,956.2L1588.9,956.2L1589.7,956.2L1590.5,956.2L1591.3,956.2L1592.1,956.2L1592.9,956.2L1593.7,956.2L1594.5,956.2L1595.3,956.2L1596.1,956.2L1596.9,956.2L1597.7,956.2L1598.5,956.2L1599.3,956.2L1600.1,956.2L1600.9,956.2L1601.7,956.2L1602.5,956.2L1603.3,956.2L1604.1,956.2L1604.9,956.2L1605.7,956.2L1606.5,956.2L1607.3,956.2L1608.1,956.2L1608.9,956.2L1609.7,956.2L1610.5,956.2L1611.3,956.2L1612.1,956.2L1612.9,956.2L1613.7,956.2L1614.5,956.2L1615.3,956.2L1616.1,956.2L1616.9,956.2L1617.7,956.2L1618.5,956.2L1619.3,956.2L1620.1,956.2L1620.9,956.2L1621.7,956.2L1622.5,956.2L1623.3,956.2L1624.1,956.2L1624.9,956.2L1625.7,956.2L1626.5,956.2L1627.3,956.2L1628.1,956.2L1628.9,956.2L1629.7,956.2L1630.5,956.2L1631.3,956.2L1632.1,956.2L1632.9,956.2L1633.7,956.2L1634.5,956.2L1635.3,956.2L1636.1,956.2L1636.9,956.2L1637.7,956.2L1638.5,956.2L1639.3,956.2L1640.1,956.2L1640.9,956.2L1641.7,956.2L1642.5,956.2L1643.3,956.2L1644.1,956.2L1644.9,956.2L1645.7,956.2L1646.5,956.2L1647.3,956.2L1648.1,956.2L1648.9,956.2L1649.7,956.2L1650.5,956.2L1651.3,956.2L1652.1,956.2L1652.9,956.2L1653.7,956.2L1654.5,956.2L1655.3,956.2L1656.1,956.2L1656.9,956.2L1657.7,956.2L1658.5,956.2L1659.3,956.2L1660.1,956.2L1660.9,956.2L1661.7,956.2L1662.5,956.2L1663.3,956.2L1664.1,956.2L1664.9,956.2L1665.7,956.2L1666.5,956.2L1667.3,956.2L1668.1,956.2L1668.9,956.2L1669.7,956.2L1670.5,956.2L1671.3,956.2L1672.1,956.2L1672.9,956.2L1673.7,956.2L1674.5,956.2L1675.3,956.2L1676.1,956.2L1676.9,956.2L1677.7,956.2L1678.5,956.2L1679.3,956.2L1680.1,956.2L1680.9,956.2L1681.7,956.2L1682.5,956.2L1683.3,956.2L1684.1,956.2L1684.9,956.2L1685.7,956.2L1686.5,956.2L1687.3,956.2L1688.1,956.2L1688.9,956.2L1689.7,956.2L1690.5,956.2L1691.3,956.2L1692.1,956.2L1692.9,956.2L1693.7,956.2L1694.5,956.2L1695.3,956.2L1696.1,956.2L1696.9,956.2L1697.7,956.2L1698.5,956.2L1699.3,956.2L1700.1,956.2L1700.9,956.2L1701.7,956.2L1702.5,956.2L1703.3,956.2L1704.1,956.2L1704.9,956.2L1705.7,956.2L1706.5,956.2L1707.3,956.2L1708.1,956.2L1708.9,956.2L1709.7,956.2L1710.5,956.2L1711.3,956.2L1712.1,956.2L1712.9,956.2L1713.7,956.2L1714.5,956.2L1715.3,956.2L1716.1,956.2L1716.9,956.2L1717.7,956.2L1718.5,956.2L1719.3,956.2L1720.1,956.2L1720.9,956.2L1721.7,956.2L1722.5,956.2L1723.3,956.2L1724.1,956.2L1724.9,956.2L1725.7,956.2L1726.5,956.2L1727.3,956.2L1728.1,956.2L1728.9,956.2L1729.7,956.2L1730.5,956.2L1731.3,956.2L1732.1,956.2L1732.9,956.2L1733.7,956.2L1734.5,956.2L1735.3,956.2L1736.1,956.2L1736.9,956.2L1737.7,956.2L1738.5,956.2L1739.3,956.2L1740.1,956.2L1740.9,956.2L1741.7,956.2L1742.5,956.2L1743.3,956.2L1744.1,956.2L1744.9,956.2L1745.7,956.2L1746.5,956.2L1747.3,956.2L1748.1,956.2L1748.9,956.2L1749.7,956.2L1750.5,956.2L1751.3,956.2L1752.1,956.2L1752.9,956.2L1753.7,956.2L1754.5,956.2L1755.3,956.2L1756.1,956.2L1756.9,956.2L1757.7,956.2L1758.5,956.2L1759.3,956.2L1760.1,956.2L1760.9,956.2L1761.7,956.2L1762.5,956.2L1763.3,956.2L1764.1,956.2L1764.9,956.2L1765.7,956.2L1766.5,956.2L1767.3,956.2L1768.1,956.2L1768.9,956.2L1769.7,956.2L1770.5,956.2L1771.3,956.2L1772.1,956.2L1772.9,956.2L1773.7,956.2L1774.5,956.2L1775.3,956.2L1776.1,956.2L1776.9,956.2L1777.7,956.2L1778.5,956.2L1779.3,956.2L1780.1,956.2L1780.9,956.2L1781.7,956.2L1782.5,956.2L1783.3,956.2L1784.1,956.2L1784.9,956.2L1785.7,956.2L1786.5,956.2L1787.3,956.2L1788.1,956.2L1788.9,956.2L1789.7,956.2L1790.5,956.2L1791.3,956.2L1792.1,956.2L1792.9,956.2L1793.7,956.2L1794.5,956.2L1795.3,956.2L1796.1,956.2L1796.9,956.2L1797.7,956.2L1798.5,956.2L1799.3,956.2L1800.1,956.2L1800.9,956.2L1801.7,956.2L1802.5,956.2L1803.3,956.2L1804.1,956.2L1804.9,956.2L1805.7,956.2L1806.5,956.2L1807.3,956.2L1808.1,956.2L1808.9,956.2L1809.7,956.2L1810.5,956.2L1811.3,956.2L1812.1,956.2L1812.9,956.2L1813.4,956.2Z" fill="#c81a1a" stroke="#c80a0a" stroke-width="1" stroke-linejoin="round"/>
<line x1="260.5" x2="260.5" y1="592.2" y2="956.2" stroke="#ff8000" stroke-opacity="0.75" stroke-width="2.4"/>
<line x1="294.2" x2="294.2" y1="592.2" y2="956.2" stroke="#00ff00" stroke-opacity="0.75" stroke-width="2.6"/>
<line x1="295.2" x2="295.2" y1="862.7" y2="956.2" stroke="#00ff00" stroke-opacity="0.75" stroke-width="2.2"/>
<line x1="287.1" x2="287.1" y1="854.7" y2="956.2" stroke="#00ff00" stroke-opacity="0.75" stroke-width="2.4"/>
<line x1="298.6" x2="298.6" y1="949.5" y2="956.2" stroke="#00ff00" stroke-opacity="0.75" stroke-width="2.1"/>
<line x1="305.7" x2="305.7" y1="592.2" y2="956.2" stroke="#00ffff" stroke-opacity="0.75" stroke-width="2.6"/>
<line x1="306.9" x2="306.9" y1="856.0" y2="956.2" stroke="#00ffff" stroke-opacity="0.75" stroke-width="2.2"/>
<line x1="297.2" x2="297.2" y1="886.1" y2="956.2" stroke="#00ffff" stroke-opacity="0.75" stroke-width="2.4"/>
<line x1="312.7" x2="312.7" y1="948.2" y2="956.2" stroke="#00ffff" stroke-opacity="0.75" stroke-width="2.1"/>
<line x1="375.7" x2="375.7" y1="592.2" y2="956.2" stroke="#ff00ff" stroke-opacity="0.75" stroke-width="2.4"/>
<line x1="383.3" x2="383.3" y1="938.2" y2="956.2" stroke="#ff00ff" stroke-opacity="0.75" stroke-width="2.4"/>
<line x1="743.0" x2="743.0" y1="592.2" y2="956.2" stroke="#00ff00" stroke-opacity="0.75" stroke-width="2.2"/>
<line x1="742.0" x2="742.0" y1="772.6" y2="956.2" stroke="#00ff00" stroke-opacity="0.75" stroke-width="2.4"/>
<line x1="794.5" x2="794.5" y1="906.1" y2="956.2" stroke="#00ff00" stroke-opacity="0.75" stroke-width="2.4"/>
<line x1="827.6" x2="827.6" y1="592.2" y2="956.2" stroke="#00ffff" stroke-opacity="0.75" stroke-width="2.2"/>
<line x1="826.3" x2="826.3" y1="772.6" y2="956.2" stroke="#00ffff" stroke-opacity="0.75" stroke-width="2.4"/>
<line x1="889.6" x2="889.6" y1="904.1" y2="956.2" stroke="#00ffff" stroke-opacity="0.75" stroke-width="2.4"/>
<rect x="241.7" y="431.2" width="37.6" height="45.9" fill="#ff8000" fill-opacity="0.75"/>
<text x="255.68" y="463.40" font-size="30.5" textLength="17.86" lengthAdjust="spacingAndGlyphs" fill="#333" fill-opacity="0.62">C</text>
<rect x="282.3" y="486.4" width="47.7" height="45.9" fill="#00ffff" fill-opacity="0.75"/>
<text x="294.96" y="518.60" font-size="30.5" textLength="29.46" lengthAdjust="spacingAndGlyphs" fill="#333" fill-opacity="0.62">Ni</text>
<rect x="270.1" y="541.6" width="49.0" height="45.9" fill="#00ff00" fill-opacity="0.75"/>
<text x="282.29" y="573.80" font-size="30.5" textLength="29.48" lengthAdjust="spacingAndGlyphs" fill="#333" fill-opacity="0.62">Fe</text>
<rect x="355.5" y="541.6" width="40.5" height="45.9" fill="#ff00ff" fill-opacity="0.75"/>
<text x="367.27" y="573.80" font-size="30.5" textLength="23.75" lengthAdjust="spacingAndGlyphs" fill="#333" fill-opacity="0.62">Si</text>
<rect x="718.9" y="541.6" width="49.0" height="45.9" fill="#00ff00" fill-opacity="0.75"/>
<text x="731.09" y="573.80" font-size="30.5" textLength="29.48" lengthAdjust="spacingAndGlyphs" fill="#333" fill-opacity="0.62">Fe</text>
<rect x="804.1" y="541.6" width="47.7" height="45.9" fill="#00ffff" fill-opacity="0.75"/>
<text x="816.84" y="573.80" font-size="30.5" textLength="29.46" lengthAdjust="spacingAndGlyphs" fill="#333" fill-opacity="0.62">Ni</text>
</g>
<g stroke="#000" fill="none" stroke-linecap="square"><path d="M246.3,48.4V956.2" stroke-width="3.0"/><path d="M246.3,48.4H1813.4" stroke-width="3.2"/><path d="M1813.0,48.4V956.2" stroke-width="4.4"/><path d="M246.3,956.6H1813.4" stroke-width="4.0"/></g>
<path d="M231.7,956.2H246.3M231.7,922.8H246.3M231.7,889.4H246.3M231.7,856.0H246.3M231.7,822.6H246.3M231.7,789.2H246.3M231.7,755.9H246.3M231.7,722.5H246.3M231.7,689.1H246.3M231.7,655.7H246.3M231.7,622.3H246.3M231.7,588.9H246.3M231.7,555.5H246.3M231.7,522.1H246.3M231.7,488.7H246.3M231.7,455.4H246.3M231.7,422.0H246.3M231.7,388.6H246.3M231.7,355.2H246.3M231.7,321.8H246.3M231.7,288.4H246.3M231.7,255.0H246.3M231.7,221.6H246.3M231.7,188.2H246.3M231.7,154.8H246.3M231.7,121.5H246.3M231.7,88.1H246.3M231.7,54.7H246.3M278.1,956.2V970.4M317.4,956.2V970.4M356.8,956.2V970.4M396.2,956.2V978.4M435.6,956.2V970.4M474.9,956.2V970.4M514.3,956.2V970.4M553.7,956.2V978.4M593.1,956.2V970.4M632.5,956.2V970.4M671.8,956.2V970.4M711.2,956.2V978.4M750.6,956.2V970.4M790.0,956.2V970.4M829.3,956.2V970.4M868.7,956.2V978.4M908.1,956.2V970.4M947.5,956.2V970.4M986.8,956.2V970.4M1026.2,956.2V978.4M1065.6,956.2V970.4M1105.0,956.2V970.4M1144.3,956.2V970.4M1183.7,956.2V978.4M1223.1,956.2V970.4M1262.5,956.2V970.4M1301.8,956.2V970.4M1341.2,956.2V978.4M1380.6,956.2V970.4M1420.0,956.2V970.4M1459.3,956.2V970.4M1498.7,956.2V978.4M1538.1,956.2V970.4M1577.5,956.2V970.4M1616.8,956.2V970.4M1656.2,956.2V978.4M1695.6,956.2V970.4M1735.0,956.2V970.4M1774.3,956.2V970.4M1813.7,956.2V978.4" stroke="#000" stroke-width="3.0" fill="none"/>
<text x="204.21" y="972.60" font-size="38" textLength="21.44" lengthAdjust="spacingAndGlyphs" fill="#0a0a0a" stroke="#0a0a0a" stroke-width="0.5" stroke-linejoin="round">0</text>
<text x="203.72" y="839.04" font-size="38" textLength="22.61" lengthAdjust="spacingAndGlyphs" fill="#0a0a0a" stroke="#0a0a0a" stroke-width="0.5" stroke-linejoin="round">2</text>
<text x="205.02" y="705.48" font-size="38" textLength="20.17" lengthAdjust="spacingAndGlyphs" fill="#0a0a0a" stroke="#0a0a0a" stroke-width="0.5" stroke-linejoin="round">4</text>
<text x="203.76" y="571.92" font-size="38" textLength="22.13" lengthAdjust="spacingAndGlyphs" fill="#0a0a0a" stroke="#0a0a0a" stroke-width="0.5" stroke-linejoin="round">6</text>
<text x="204.19" y="438.36" font-size="38" textLength="21.66" lengthAdjust="spacingAndGlyphs" fill="#0a0a0a" stroke="#0a0a0a" stroke-width="0.5" stroke-linejoin="round">8</text>
<text x="183.84" y="304.80" font-size="38" textLength="40.16" lengthAdjust="spacingAndGlyphs" fill="#0a0a0a" stroke="#0a0a0a" stroke-width="0.5" stroke-linejoin="round">10</text>
<text x="183.80" y="171.24" font-size="38" textLength="40.77" lengthAdjust="spacingAndGlyphs" fill="#0a0a0a" stroke="#0a0a0a" stroke-width="0.5" stroke-linejoin="round">12</text>
<text x="386.13" y="1020.30" font-size="38" textLength="20.78" lengthAdjust="spacingAndGlyphs" fill="#0a0a0a" stroke="#0a0a0a" stroke-width="0.5" stroke-linejoin="round">2</text>
<text x="544.83" y="1020.30" font-size="38" textLength="18.54" lengthAdjust="spacingAndGlyphs" fill="#0a0a0a" stroke="#0a0a0a" stroke-width="0.5" stroke-linejoin="round">4</text>
<text x="701.17" y="1020.30" font-size="38" textLength="20.33" lengthAdjust="spacingAndGlyphs" fill="#0a0a0a" stroke="#0a0a0a" stroke-width="0.5" stroke-linejoin="round">6</text>
<text x="859.07" y="1020.30" font-size="38" textLength="19.91" lengthAdjust="spacingAndGlyphs" fill="#0a0a0a" stroke="#0a0a0a" stroke-width="0.5" stroke-linejoin="round">8</text>
<text x="1005.14" y="1020.30" font-size="38" textLength="41.71" lengthAdjust="spacingAndGlyphs" fill="#0a0a0a" stroke="#0a0a0a" stroke-width="0.5" stroke-linejoin="round">10</text>
<text x="1162.59" y="1020.30" font-size="38" textLength="42.35" lengthAdjust="spacingAndGlyphs" fill="#0a0a0a" stroke="#0a0a0a" stroke-width="0.5" stroke-linejoin="round">12</text>
<text x="1320.17" y="1020.30" font-size="38" textLength="41.30" lengthAdjust="spacingAndGlyphs" fill="#0a0a0a" stroke="#0a0a0a" stroke-width="0.5" stroke-linejoin="round">14</text>
<text x="1477.62" y="1020.30" font-size="38" textLength="41.92" lengthAdjust="spacingAndGlyphs" fill="#0a0a0a" stroke="#0a0a0a" stroke-width="0.5" stroke-linejoin="round">16</text>
<text x="1635.12" y="1020.30" font-size="38" textLength="41.92" lengthAdjust="spacingAndGlyphs" fill="#0a0a0a" stroke="#0a0a0a" stroke-width="0.5" stroke-linejoin="round">18</text>
<text x="1779.72" y="1020.30" font-size="38" textLength="40.70" lengthAdjust="spacingAndGlyphs" fill="#0a0a0a" stroke="#0a0a0a" stroke-width="0.5" stroke-linejoin="round">20</text>
<text x="255.18" y="35.20" font-size="38" textLength="112.65" lengthAdjust="spacingAndGlyphs" fill="#0a0a0a" stroke="#0a0a0a" stroke-width="0.5" stroke-linejoin="round">cps/eV</text>
<text x="922.70" y="1073.40" font-size="38" textLength="211.45" lengthAdjust="spacingAndGlyphs" fill="#0a0a0a" stroke="#0a0a0a" stroke-width="0.5" stroke-linejoin="round">Energy [keV]</text>
<rect x="1340.4" y="48.4" width="473.0" height="54.5" fill="#fff" stroke="#222" stroke-width="1.6"/>
<line x1="1354.7" x2="1411.8" y1="73.2" y2="73.2" stroke="#e25a5a" stroke-width="2.4"/>
<text x="1464.47" y="84.40" font-size="30" textLength="291.84" lengthAdjust="spacingAndGlyphs" fill="#0a0a0a" stroke="#0a0a0a" stroke-width="0.45" stroke-linejoin="round">1.00 * Acquisition 3233</text>
<g stroke="#000" fill="none" stroke-linecap="square"><path d="M246.3,48.4V956.2" stroke-width="3.0"/><path d="M246.3,48.4H1813.4" stroke-width="3.2"/><path d="M1813.0,48.4V956.2" stroke-width="4.4"/><path d="M246.3,956.6H1813.4" stroke-width="4.0"/></g>
</g>
<g id="table1">
<rect x="807.2" y="186" width="967.3" height="77.5" fill="#dcdcdc"/>
<rect x="812.4" y="263.5" width="107.3" height="55.9" fill="#dcdcdc"/>
<text x="809.50" y="175.60" font-size="27" textLength="203.59" lengthAdjust="spacingAndGlyphs" fill="#0a0a0a" stroke="#0a0a0a" stroke-width="0.6" stroke-linejoin="round">Acquisition 3232</text>
<text x="811.69" y="238.60" font-size="27" textLength="101.14" lengthAdjust="spacingAndGlyphs" fill="#0a0a0a" stroke="#0a0a0a" stroke-width="0.6" stroke-linejoin="round">Element</text>
<text x="923.30" y="238.60" font-size="27" textLength="85.63" lengthAdjust="spacingAndGlyphs" fill="#0a0a0a" stroke="#0a0a0a" stroke-width="0.6" stroke-linejoin="round">At. No.</text>
<text x="1019.50" y="238.60" font-size="27" textLength="71.81" lengthAdjust="spacingAndGlyphs" fill="#0a0a0a" stroke="#0a0a0a" stroke-width="0.6" stroke-linejoin="round">Netto</text>
<text x="1106.77" y="216.00" font-size="27" textLength="63.64" lengthAdjust="spacingAndGlyphs" fill="#0a0a0a" stroke="#0a0a0a" stroke-width="0.6" stroke-linejoin="round">Mass</text>
<text x="1118.98" y="256.00" font-size="27" textLength="39.63" lengthAdjust="spacingAndGlyphs" fill="#0a0a0a" stroke="#0a0a0a" stroke-width="0.6" stroke-linejoin="round">[%]</text>
<text x="1181.87" y="216.00" font-size="27" textLength="150.12" lengthAdjust="spacingAndGlyphs" fill="#0a0a0a" stroke="#0a0a0a" stroke-width="0.6" stroke-linejoin="round">Mass Norm.</text>
<text x="1238.23" y="256.00" font-size="27" textLength="38.53" lengthAdjust="spacingAndGlyphs" fill="#0a0a0a" stroke="#0a0a0a" stroke-width="0.6" stroke-linejoin="round">[%]</text>
<text x="1350.50" y="216.00" font-size="27" textLength="66.83" lengthAdjust="spacingAndGlyphs" fill="#0a0a0a" stroke="#0a0a0a" stroke-width="0.6" stroke-linejoin="round">Atom</text>
<text x="1364.21" y="256.00" font-size="27" textLength="38.97" lengthAdjust="spacingAndGlyphs" fill="#0a0a0a" stroke="#0a0a0a" stroke-width="0.6" stroke-linejoin="round">[%]</text>
<text x="1435.59" y="216.00" font-size="27" textLength="165.96" lengthAdjust="spacingAndGlyphs" fill="#0a0a0a" stroke="#0a0a0a" stroke-width="0.6" stroke-linejoin="round">abs. error [%]</text>
<text x="1462.89" y="256.00" font-size="27" textLength="112.10" lengthAdjust="spacingAndGlyphs" fill="#0a0a0a" stroke="#0a0a0a" stroke-width="0.6" stroke-linejoin="round">(1 sigma)</text>
<text x="1610.44" y="216.00" font-size="27" textLength="157.14" lengthAdjust="spacingAndGlyphs" fill="#0a0a0a" stroke="#0a0a0a" stroke-width="0.6" stroke-linejoin="round">rel. error [%]</text>
<text x="1633.08" y="256.00" font-size="27" textLength="112.72" lengthAdjust="spacingAndGlyphs" fill="#0a0a0a" stroke="#0a0a0a" stroke-width="0.6" stroke-linejoin="round">(1 sigma)</text>
<text x="813.97" y="303.40" font-size="27" textLength="87.46" lengthAdjust="spacingAndGlyphs" fill="#0a0a0a" stroke="#0a0a0a" stroke-width="0.6" stroke-linejoin="round">Carbon</text>
<text x="993.79" y="303.40" font-size="27" textLength="14.59" lengthAdjust="spacingAndGlyphs" fill="#0a0a0a" stroke="#0a0a0a" stroke-width="0.6" stroke-linejoin="round">6</text>
<text x="1032.87" y="303.40" font-size="27" textLength="60.31" lengthAdjust="spacingAndGlyphs" fill="#0a0a0a" stroke="#0a0a0a" stroke-width="0.6" stroke-linejoin="round">1075</text>
<text x="1119.83" y="303.40" font-size="27" textLength="51.83" lengthAdjust="spacingAndGlyphs" fill="#0a0a0a" stroke="#0a0a0a" stroke-width="0.6" stroke-linejoin="round">0.82</text>
<text x="1276.98" y="303.40" font-size="27" textLength="51.55" lengthAdjust="spacingAndGlyphs" fill="#0a0a0a" stroke="#0a0a0a" stroke-width="0.6" stroke-linejoin="round">6.01</text>
<text x="1355.55" y="303.40" font-size="27" textLength="67.64" lengthAdjust="spacingAndGlyphs" fill="#0a0a0a" stroke="#0a0a0a" stroke-width="0.6" stroke-linejoin="round">22.59</text>
<text x="1545.24" y="303.40" font-size="27" textLength="51.69" lengthAdjust="spacingAndGlyphs" fill="#0a0a0a" stroke="#0a0a0a" stroke-width="0.6" stroke-linejoin="round">0.21</text>
<text x="1694.15" y="303.40" font-size="27" textLength="67.78" lengthAdjust="spacingAndGlyphs" fill="#0a0a0a" stroke="#0a0a0a" stroke-width="0.6" stroke-linejoin="round">25.27</text>
</g>
<g clip-path="url(#c2clip)">
<g id="chart2" transform="matrix(1.2279,0,0,1.1353,-227.05,1109.43)">
<clipPath id="clip2"><rect x="247.9" y="48.4" width="1565.5" height="907.8"/></clipPath>
<g clip-path="url(#clip2)">
<path d="M247.3,956.2L247.3,947.2L248.1,948.2L248.9,946.5L249.7,945.4L250.5,945.1L251.3,943.4L252.1,941.9L252.9,939.6L253.7,936.2L254.5,931.5L255.3,924.7L256.1,908.8L256.9,883.9L257.7,844.7L258.5,793.1L259.3,740.1L260.1,698.8L260.4,685.7L260.8,679.8L260.9,678.7L261.2,683.7L261.7,702.5L262.5,748.1L263.3,802.7L264.1,849.7L264.9,888.3L265.7,912.5L266.5,926.5L267.3,931.3L268.1,928.6L268.9,923.5L269.7,920.7L269.8,923.6L270.2,921.1L270.5,922.3L270.6,922.4L271.3,923.3L272.1,925.4L272.9,924.9L273.7,923.4L274.5,922.0L275.3,916.0L276.1,899.4L276.9,875.5L277.7,845.9L278.5,819.2L279.3,801.4L279.5,797.0L279.9,789.4L280.1,785.4L280.3,785.9L280.9,788.4L281.7,802.0L282.5,817.8L283.3,824.3L283.6,823.8L284.0,826.7L284.1,830.2L284.4,827.5L284.9,827.5L285.7,823.7L286.5,813.3L287.3,809.4L287.3,806.4L287.7,797.5L288.1,794.9L288.1,798.3L288.9,806.4L289.7,811.8L290.5,800.7L290.7,794.9L291.1,753.6L291.3,718.7L291.5,704.0L291.5,699.2L291.9,676.8L292.1,681.5L292.3,705.8L292.9,788.9L293.7,835.9L294.5,757.9L295.3,603.6L295.9,498.9L296.1,481.5L296.2,473.5L296.3,475.1L296.6,482.0L296.7,494.4L296.9,516.0L297.0,528.9L297.7,671.0L298.5,809.2L299.3,878.2L300.1,902.4L300.9,912.2L301.7,911.5L302.5,888.4L303.0,863.9L303.3,859.7L303.4,864.2L303.8,860.2L304.1,860.4L304.9,858.5L305.7,837.6L306.5,807.4L306.7,801.2L307.1,795.8L307.3,793.6L307.5,798.9L308.1,820.6L308.9,858.5L309.7,889.5L310.5,907.6L311.3,919.5L312.1,926.5L312.9,925.3L313.7,926.7L314.5,928.9L315.3,927.3L316.1,928.4L316.9,930.7L317.7,929.1L318.5,925.8L319.3,924.1L320.1,927.9L320.9,926.6L321.7,925.9L322.5,927.0L323.3,927.8L324.1,922.1L324.9,919.3L325.7,919.3L326.5,920.9L327.3,919.8L328.1,920.8L328.9,921.3L329.7,923.7L330.5,923.7L331.3,925.0L332.1,926.7L332.9,926.1L333.7,927.1L334.5,926.9L335.3,925.0L336.1,922.4L336.9,915.7L337.7,914.6L338.5,916.7L339.3,919.4L340.1,922.8L340.9,922.6L341.7,925.2L342.5,924.3L343.3,922.9L344.1,921.2L344.9,919.2L345.7,919.5L346.5,914.9L347.3,918.4L348.1,919.3L348.9,922.2L349.7,919.5L350.5,921.5L351.3,919.6L352.1,918.0L352.9,916.0L353.7,915.9L354.5,917.0L355.3,916.5L356.1,913.4L356.9,917.4L357.7,918.5L358.5,918.6L359.3,918.3L360.1,920.0L360.9,918.5L361.7,916.4L362.5,917.4L363.3,916.3L364.1,916.2L364.9,913.1L365.7,913.8L366.5,911.3L367.3,913.4L368.1,914.8L368.9,911.6L369.7,908.3L370.5,904.9L371.3,902.0L372.1,900.9L372.9,899.9L373.7,892.0L374.5,888.4L375.3,884.9L375.3,883.9L375.7,886.3L376.1,882.1L376.1,879.1L376.9,886.1L377.7,892.7L378.5,895.2L379.3,901.3L380.1,904.5L380.9,909.3L381.7,917.4L382.5,918.2L383.3,921.8L384.1,920.7L384.9,918.4L385.7,921.8L386.5,922.0L387.3,920.3L388.1,918.0L388.9,916.9L389.7,917.1L390.5,919.0L391.3,918.4L392.1,915.0L392.9,915.1L393.7,912.0L394.5,906.3L395.3,906.1L396.1,903.5L396.9,897.8L397.0,901.0L397.4,906.3L397.7,902.0L397.8,892.9L398.5,892.0L399.3,900.7L400.1,903.6L400.9,906.0L401.7,911.6L402.5,917.4L403.3,914.1L404.1,915.1L404.9,919.0L405.7,922.6L406.5,920.9L407.3,918.9L408.1,918.4L408.9,917.7L409.7,917.7L410.5,914.8L411.3,916.0L412.1,920.3L412.9,919.2L413.7,916.3L414.5,915.4L415.3,911.6L416.1,912.6L416.9,909.9L417.7,907.6L418.5,907.7L419.3,902.7L420.0,904.1L420.1,906.7L420.4,907.9L420.8,910.3L420.9,907.9L421.7,902.5L422.5,906.1L423.3,909.5L424.1,910.2L424.9,911.8L425.7,916.0L426.5,916.4L427.3,914.6L428.1,913.4L428.9,913.7L429.7,912.4L430.5,916.2L431.3,919.1L432.1,920.8L432.9,917.5L433.7,915.3L434.5,916.9L435.3,918.2L436.1,919.9L436.9,919.4L437.7,918.3L438.5,916.2L439.3,913.3L440.1,913.4L440.9,912.6L441.7,912.9L442.5,915.4L443.3,913.2L444.1,916.2L444.9,920.3L445.7,919.2L446.5,918.5L447.3,918.6L448.1,911.9L448.9,913.9L449.7,915.5L450.5,919.0L451.3,917.2L452.1,916.6L452.9,918.3L453.7,916.8L454.5,916.3L455.3,916.9L456.1,919.3L456.9,916.9L457.7,918.0L458.5,921.4L459.3,923.7L460.1,919.8L460.9,916.2L461.7,912.3L462.5,917.0L463.3,913.3L464.1,912.3L464.9,914.9L465.7,915.9L466.5,917.1L467.3,919.6L468.1,915.3L468.9,917.7L469.7,919.7L470.5,920.6L471.3,925.9L472.1,924.5L472.9,923.2L473.7,922.3L474.5,916.1L475.3,913.0L476.1,916.6L476.9,918.4L477.7,917.7L478.5,918.8L479.3,917.6L480.1,917.0L480.9,918.6L481.7,919.2L482.5,918.2L483.3,917.3L484.1,917.6L484.9,922.5L485.7,922.9L486.5,920.1L487.3,918.5L488.1,920.2L488.9,915.1L489.7,914.2L490.5,918.1L491.3,918.1L492.1,923.2L492.9,922.3L493.7,922.3L494.5,916.9L495.3,915.6L496.1,917.7L496.9,921.5L497.7,922.6L498.5,920.0L499.3,920.2L500.1,920.0L500.9,923.3L501.7,920.0L502.5,920.6L503.3,927.0L504.1,926.5L504.9,924.2L505.7,924.5L506.5,926.0L507.3,923.5L508.1,924.2L508.9,924.1L509.7,927.4L510.5,925.7L511.3,922.4L512.1,925.8L512.9,922.3L513.7,917.6L514.5,920.0L515.3,923.2L516.1,918.3L516.9,921.3L517.7,919.9L518.5,919.8L519.3,922.4L520.1,924.1L520.9,929.8L521.7,925.4L522.5,923.3L523.3,924.2L524.1,922.8L524.9,920.1L525.7,921.1L526.5,924.2L527.3,921.7L528.1,920.5L528.9,922.8L529.7,925.6L530.5,932.1L531.3,930.8L532.1,926.7L532.9,928.0L533.7,923.3L534.5,922.5L535.3,928.1L536.1,929.7L536.9,927.1L537.7,924.8L538.5,923.9L539.3,926.1L540.1,927.3L540.9,928.8L541.7,927.4L542.5,927.6L543.3,924.4L544.1,925.8L544.9,930.5L545.7,928.8L546.5,929.1L547.3,926.9L548.1,928.5L548.9,924.6L549.7,922.6L550.5,922.1L551.3,925.8L552.1,927.0L552.9,926.5L553.7,930.7L554.5,930.2L555.3,929.8L556.1,930.8L556.9,934.5L557.7,936.2L558.5,933.8L559.3,927.7L560.1,928.9L560.9,928.7L561.7,930.0L562.5,929.7L563.3,929.0L564.1,934.9L564.9,933.3L565.7,933.1L566.5,934.5L567.3,936.3L568.1,936.4L568.9,933.7L569.7,929.5L570.5,931.8L571.3,932.5L572.1,931.0L572.9,928.6L573.7,927.7L574.5,929.6L575.3,930.4L576.1,930.4L576.9,932.4L577.7,929.9L578.5,927.5L579.3,932.1L580.1,935.0L580.9,935.6L581.7,932.0L582.5,930.2L583.3,932.2L584.1,931.7L584.9,929.0L585.7,930.1L586.5,930.3L587.3,931.0L588.1,928.3L588.9,928.8L589.7,932.0L590.5,931.5L591.3,927.4L592.1,933.3L592.9,937.1L593.7,938.1L594.5,932.5L595.3,931.6L596.1,933.6L596.9,935.9L597.7,934.1L598.5,935.1L599.3,936.0L600.1,933.8L600.9,932.2L601.7,933.1L602.5,933.4L603.3,931.2L604.1,931.9L604.9,933.0L605.7,931.5L606.5,931.0L607.3,929.9L608.1,929.8L608.9,931.1L609.7,932.7L610.5,929.7L611.3,930.2L612.1,932.6L612.9,930.6L613.7,932.7L614.5,935.4L615.3,935.0L616.1,935.3L616.9,932.6L617.7,934.2L618.5,931.6L619.3,934.3L620.1,933.4L620.9,930.4L621.7,932.9L622.5,937.0L623.3,936.4L624.1,937.2L624.9,934.2L625.7,935.4L626.5,934.7L627.3,935.1L628.1,936.9L628.9,932.8L629.7,930.2L630.5,934.9L631.3,935.5L632.1,932.6L632.9,931.6L633.7,934.8L634.5,933.9L635.3,932.3L636.1,932.0L636.9,933.3L637.7,927.8L638.5,928.8L639.3,936.2L640.1,936.6L640.9,934.4L641.7,935.7L642.5,935.9L643.3,935.2L644.1,936.4L644.9,936.1L645.7,934.6L646.5,934.9L647.3,933.2L648.1,931.1L648.9,931.3L649.7,932.1L650.5,930.5L651.3,933.5L652.1,931.8L652.9,929.8L653.7,931.4L654.5,930.2L655.3,928.7L656.1,921.1L656.9,904.4L657.7,880.1L658.5,847.0L659.3,804.0L660.1,754.9L660.9,703.3L661.7,653.2L662.5,608.0L663.3,574.0L664.1,554.0L664.9,545.2L665.3,538.8L665.7,537.6L665.7,540.6L666.1,542.2L666.5,541.7L667.3,554.0L668.1,576.0L668.9,608.8L669.7,655.2L670.5,706.7L671.3,760.3L672.1,808.2L672.9,849.9L673.7,882.2L674.5,905.6L675.3,920.4L676.1,928.4L676.9,933.1L677.7,938.7L678.5,940.3L679.3,938.2L680.1,937.7L680.9,937.4L681.7,935.0L682.5,935.5L683.3,935.4L684.1,938.2L684.9,941.8L685.7,941.1L686.5,937.0L687.3,937.7L688.1,938.1L688.9,934.6L689.7,933.1L690.5,934.5L691.3,934.0L692.1,936.1L692.9,937.9L693.7,936.3L694.5,930.4L695.3,930.8L696.1,926.2L696.9,919.3L697.7,914.7L698.5,913.5L699.3,906.0L700.1,898.0L700.9,888.0L701.7,884.9L702.5,880.3L703.3,871.8L704.1,870.0L704.9,868.1L705.7,868.3L705.7,869.1L706.1,868.4L706.5,872.0L706.5,874.3L707.3,872.9L708.1,871.9L708.9,875.4L709.7,877.2L710.5,882.4L711.3,889.0L712.1,893.9L712.9,901.2L713.7,908.4L714.5,915.4L715.3,920.4L716.1,923.5L716.9,923.9L717.7,925.3L718.5,929.1L719.3,933.3L720.1,935.7L720.9,936.6L721.7,938.2L722.5,938.3L723.3,938.6L724.1,939.9L724.9,942.9L725.7,939.5L726.5,937.9L727.3,939.1L728.1,935.7L728.9,937.2L729.7,937.6L730.5,933.8L731.3,930.6L732.1,917.7L732.9,906.4L733.7,878.6L734.5,836.4L735.3,781.3L736.1,709.4L736.9,621.5L737.7,520.4L738.5,415.9L739.3,320.3L740.1,243.5L740.9,178.3L741.7,139.4L742.5,118.6L743.1,112.3L743.3,111.7L743.5,110.8L743.9,114.3L744.1,113.2L744.9,127.3L745.7,157.5L746.5,209.6L747.3,284.4L748.1,369.9L748.9,467.0L749.7,575.1L750.5,671.8L751.3,748.2L752.1,814.4L752.9,870.3L753.7,901.9L754.5,920.9L755.3,930.4L756.1,936.9L756.9,941.2L757.7,941.0L758.5,939.6L759.3,941.9L760.1,940.9L760.9,938.9L761.7,937.6L762.5,939.4L763.3,941.3L764.1,942.8L764.9,940.8L765.7,938.8L766.5,939.3L767.3,939.6L768.1,941.4L768.9,940.9L769.7,942.2L770.5,943.6L771.3,942.8L772.1,940.0L772.9,940.5L773.7,942.3L774.5,942.3L775.3,941.3L776.1,942.0L776.9,940.5L777.7,941.6L778.5,943.3L779.3,943.5L780.1,944.6L780.9,944.5L781.7,942.8L782.5,941.2L783.3,939.4L784.1,937.3L784.9,932.9L785.7,926.5L786.5,924.0L787.3,916.6L788.1,898.6L788.9,888.5L789.7,877.8L790.5,864.5L791.3,853.6L792.1,844.8L792.9,839.5L793.7,836.3L794.5,835.6L794.8,837.1L795.1,840.4L795.3,844.8L795.5,836.1L796.1,837.8L796.9,842.7L797.7,844.8L798.5,854.2L799.3,863.2L800.1,876.1L800.9,887.1L801.7,893.5L802.5,905.8L803.3,918.4L804.1,921.9L804.9,927.0L805.7,933.8L806.5,935.9L807.3,937.1L808.1,939.2L808.9,941.3L809.7,941.7L810.5,941.4L811.3,943.6L812.1,945.1L812.9,943.4L813.7,939.7L814.5,943.4L815.3,943.9L816.1,944.0L816.9,939.6L817.7,935.4L818.5,930.2L819.3,921.9L820.1,913.9L820.9,909.9L821.7,905.3L822.5,896.9L823.3,888.1L824.1,882.0L824.9,874.6L825.7,868.5L826.5,864.5L827.3,862.1L827.4,868.4L827.8,866.1L828.1,864.2L828.1,869.4L828.9,870.6L829.7,865.0L830.5,869.3L831.3,876.5L832.1,884.1L832.9,897.1L833.7,905.2L834.5,907.8L835.3,918.3L836.1,929.4L836.9,931.4L837.7,933.2L838.5,941.3L839.3,946.6L840.1,948.4L840.9,946.5L841.7,946.4L842.5,947.6L843.3,947.9L844.1,947.9L844.9,948.3L845.7,947.8L846.5,946.1L847.3,946.5L848.1,947.4L848.9,950.1L849.7,949.0L850.5,946.4L851.3,946.4L852.1,946.8L852.9,948.8L853.7,947.7L854.5,948.2L855.3,948.3L856.1,949.1L856.9,949.8L857.7,949.7L858.5,948.1L859.3,947.1L860.1,949.2L860.9,949.7L861.7,950.0L862.5,949.3L863.3,947.8L864.1,948.8L864.9,949.3L865.7,947.6L866.5,947.3L867.3,947.6L868.1,948.2L868.9,948.6L869.7,947.8L870.5,948.6L871.3,948.2L872.1,947.4L872.9,946.7L873.7,947.4L874.5,947.7L875.3,949.6L876.1,948.1L876.9,946.9L877.7,947.7L878.5,949.1L879.3,946.4L880.1,946.6L880.9,945.8L881.7,942.7L882.5,943.1L883.3,943.0L884.1,944.9L884.9,942.0L885.7,940.9L886.5,941.3L887.3,942.4L888.1,940.9L888.9,940.0L889.2,938.7L889.6,941.8L889.7,943.3L890.0,940.4L890.5,942.2L891.3,941.6L892.1,939.2L892.9,938.2L893.7,940.1L894.5,941.4L895.3,942.8L896.1,944.0L896.9,944.8L897.7,945.6L898.5,947.2L899.3,946.4L900.1,945.6L900.9,947.1L901.7,948.0L902.5,948.1L903.3,949.8L904.1,948.9L904.9,946.5L905.7,947.5L906.5,948.6L907.3,950.0L908.1,951.3L908.9,951.6L909.7,950.1L910.5,948.8L911.3,949.6L912.1,949.5L912.9,950.4L913.7,950.3L914.5,948.9L915.3,947.1L916.1,949.7L916.9,951.2L917.7,949.9L918.5,950.1L919.3,950.3L920.1,950.9L920.9,950.2L921.7,950.9L922.5,950.6L923.3,951.2L924.1,951.4L924.9,950.2L925.7,950.8L926.5,952.5L927.3,950.5L928.1,949.6L928.9,950.2L929.7,950.3L930.5,950.3L931.3,950.6L932.1,950.8L932.9,949.5L933.7,949.5L934.5,951.3L935.3,951.5L936.1,952.1L936.9,951.4L937.7,950.1L938.5,950.6L939.3,950.9L940.1,950.5L940.9,948.4L941.7,948.9L942.5,950.2L943.3,950.2L944.1,948.9L944.9,949.2L945.7,950.5L946.5,951.6L947.3,951.9L948.1,949.6L948.9,948.2L949.7,948.2L950.5,949.9L951.3,950.9L952.1,952.7L952.9,951.5L953.7,952.1L954.5,952.6L955.3,952.7L956.1,952.6L956.9,951.9L957.7,951.2L958.5,952.0L959.3,952.0L960.1,950.9L960.9,949.2L961.7,950.1L962.5,951.5L963.3,950.3L964.1,949.6L964.9,950.8L965.7,950.4L966.5,950.6L967.3,952.4L968.1,951.8L968.9,951.3L969.7,950.3L970.5,950.1L971.3,952.0L972.1,953.3L972.9,952.5L973.7,951.9L974.5,952.1L975.3,951.9L976.1,952.4L976.9,951.2L977.7,950.0L978.5,949.4L979.3,950.7L980.1,950.9L980.9,952.2L981.7,952.8L982.5,952.7L983.3,952.4L984.1,953.5L984.9,953.1L985.7,950.2L986.5,951.3L987.3,951.7L988.1,951.7L988.9,952.1L989.7,951.7L990.5,950.7L991.3,950.8L992.1,951.0L992.9,952.4L993.7,952.0L994.5,952.9L995.3,953.1L996.1,951.5L996.9,951.1L997.7,950.9L998.5,951.6L999.3,953.3L1000.1,951.4L1000.9,949.9L1001.7,950.8L1002.5,950.5L1003.3,949.7L1004.1,950.6L1004.9,953.8L1005.7,953.0L1006.5,952.3L1007.3,951.9L1008.1,951.4L1008.9,953.6L1009.7,954.5L1010.5,952.6L1011.3,951.8L1012.1,950.8L1012.9,950.6L1013.7,951.0L1014.5,951.1L1015.3,952.9L1016.1,952.9L1016.9,952.8L1017.7,950.9L1018.5,951.5L1019.3,951.2L1020.1,951.2L1020.9,951.0L1021.7,950.7L1022.5,950.6L1023.3,951.1L1024.1,951.6L1024.9,952.1L1025.7,954.0L1026.5,953.2L1027.3,951.0L1028.1,951.7L1028.9,953.7L1029.7,954.1L1030.5,953.8L1031.3,952.7L1032.1,951.6L1032.9,951.8L1033.7,952.0L1034.5,953.3L1035.3,952.7L1036.1,952.1L1036.9,951.7L1037.7,951.6L1038.5,951.8L1039.3,951.3L1040.1,950.9L1040.9,951.9L1041.7,953.5L1042.5,953.6L1043.3,952.9L1044.1,951.1L1044.9,951.3L1045.7,952.3L1046.5,953.1L1047.3,952.7L1048.1,951.4L1048.9,952.4L1049.7,953.3L1050.5,953.2L1051.3,952.7L1052.1,954.1L1052.9,953.4L1053.7,951.9L1054.5,951.5L1055.3,951.9L1056.1,952.4L1056.9,951.5L1057.7,951.2L1058.5,953.1L1059.3,953.7L1060.1,953.1L1060.9,952.8L1061.7,953.2L1062.5,954.0L1063.3,954.5L1064.1,952.9L1064.9,953.3L1065.7,953.1L1066.5,952.9L1067.3,952.6L1068.1,953.9L1068.9,954.0L1069.7,953.0L1070.5,952.8L1071.3,953.1L1072.1,952.7L1072.9,953.2L1073.7,953.6L1074.5,953.9L1075.3,952.9L1076.1,952.1L1076.9,952.7L1077.7,952.7L1078.5,952.2L1079.3,953.1L1080.1,953.5L1080.9,952.5L1081.7,951.6L1082.5,952.8L1083.3,953.0L1084.1,952.8L1084.9,953.3L1085.7,953.0L1086.5,952.5L1087.3,953.9L1088.1,952.8L1088.9,951.8L1089.7,951.7L1090.5,952.4L1091.3,952.7L1092.1,953.8L1092.9,954.5L1093.7,953.3L1094.5,952.8L1095.3,952.4L1096.1,951.3L1096.9,950.6L1097.7,951.6L1098.5,951.6L1099.3,952.4L1100.1,953.1L1100.9,953.7L1101.7,953.4L1102.5,953.5L1103.3,953.5L1104.1,953.9L1104.9,953.1L1105.7,954.0L1106.5,953.8L1107.3,954.7L1108.1,953.7L1108.9,952.8L1109.7,952.2L1110.5,952.2L1111.3,953.9L1112.1,953.8L1112.9,953.5L1113.7,953.0L1114.5,952.5L1115.3,953.7L1116.1,954.4L1116.9,953.9L1117.7,953.0L1118.5,954.2L1119.3,955.1L1120.1,953.9L1120.9,952.2L1121.7,952.1L1122.5,953.7L1123.3,953.9L1124.1,952.8L1124.9,952.5L1125.7,953.2L1126.5,953.2L1127.3,953.3L1128.1,954.1L1128.9,953.1L1129.7,954.4L1130.5,954.9L1131.3,953.0L1132.1,953.0L1132.9,953.3L1133.7,954.4L1134.5,953.6L1135.3,953.2L1136.1,953.3L1136.9,953.5L1137.7,953.6L1138.5,954.0L1139.3,954.0L1140.1,952.6L1140.9,953.8L1141.7,954.6L1142.5,953.8L1143.3,954.0L1144.1,953.5L1144.9,951.5L1145.7,953.1L1146.5,955.0L1147.3,954.6L1148.1,954.2L1148.9,953.8L1149.7,953.3L1150.5,952.9L1151.3,952.5L1152.1,953.7L1152.9,953.9L1153.7,952.8L1154.5,952.8L1155.3,953.8L1156.1,954.0L1156.9,953.0L1157.7,952.9L1158.5,952.7L1159.3,952.7L1160.1,953.2L1160.9,953.6L1161.7,953.7L1162.5,954.1L1163.3,954.6L1164.1,953.6L1164.9,953.1L1165.7,953.4L1166.5,954.3L1167.3,954.0L1168.1,953.0L1168.9,953.2L1169.7,954.7L1170.5,955.1L1171.3,954.5L1172.1,954.5L1172.9,953.1L1173.7,953.6L1174.5,954.0L1175.3,955.1L1176.1,954.4L1176.9,954.3L1177.7,954.7L1178.5,953.2L1179.3,953.6L1180.1,953.9L1180.9,954.2L1181.7,953.9L1182.5,953.6L1183.3,953.7L1184.1,954.2L1184.9,955.1L1185.7,954.8L1186.5,955.0L1187.3,954.5L1188.1,955.0L1188.9,955.2L1189.7,953.7L1190.5,954.2L1191.3,954.6L1192.1,954.4L1192.9,954.3L1193.7,953.6L1194.5,953.3L1195.3,954.1L1196.1,953.9L1196.9,954.0L1197.7,954.9L1198.5,954.0L1199.3,953.7L1200.1,954.3L1200.9,954.8L1201.7,954.9L1202.5,954.1L1203.3,954.6L1204.1,954.7L1204.9,955.3L1205.7,955.2L1206.5,955.7L1207.3,955.2L1208.1,954.4L1208.9,955.3L1209.7,955.5L1210.5,955.3L1211.3,955.2L1212.1,955.3L1212.9,954.8L1213.7,954.8L1214.5,954.2L1215.3,954.2L1216.1,954.3L1216.9,954.3L1217.7,954.7L1218.5,955.2L1219.3,954.2L1220.1,955.0L1220.9,954.4L1221.7,955.3L1222.5,956.2L1223.3,956.2L1224.1,956.1L1224.9,955.0L1225.7,954.3L1226.5,953.2L1227.3,954.3L1228.1,954.9L1228.9,953.6L1229.7,953.0L1230.5,954.8L1231.3,955.4L1232.1,955.2L1232.9,955.6L1233.7,955.2L1234.5,953.9L1235.3,953.7L1236.1,954.0L1236.9,954.3L1237.7,954.4L1238.5,955.3L1239.3,954.7L1240.1,955.6L1240.9,955.6L1241.7,955.1L1242.5,955.4L1243.3,954.9L1244.1,954.5L1244.9,954.3L1245.7,954.8L1246.5,954.9L1247.3,955.1L1248.1,955.1L1248.9,955.1L1249.7,955.0L1250.5,954.6L1251.3,954.3L1252.1,955.2L1252.9,956.2L1253.7,955.8L1254.5,956.1L1255.3,955.9L1256.1,955.5L1256.9,956.2L1257.7,955.9L1258.5,955.3L1259.3,955.3L1260.1,955.7L1260.9,955.7L1261.7,954.9L1262.5,955.8L1263.3,955.8L1264.1,955.1L1264.9,955.1L1265.7,954.9L1266.5,954.9L1267.3,955.6L1268.1,955.5L1268.9,955.7L1269.7,955.6L1270.5,955.7L1271.3,955.9L1272.1,955.7L1272.9,955.5L1273.7,954.3L1274.5,954.3L1275.3,955.5L1276.1,956.2L1276.9,956.2L1277.7,956.2L1278.5,955.6L1279.3,956.0L1280.1,956.0L1280.9,956.0L1281.7,956.0L1282.5,956.0L1283.3,955.7L1284.1,955.2L1284.9,955.2L1285.7,954.9L1286.5,955.3L1287.3,955.3L1288.1,955.0L1288.9,955.5L1289.7,955.4L1290.5,955.7L1291.3,955.4L1292.1,955.4L1292.9,955.5L1293.7,955.5L1294.5,954.8L1295.3,955.3L1296.1,955.6L1296.9,955.2L1297.7,955.6L1298.5,955.5L1299.3,955.3L1300.1,955.5L1300.9,955.5L1301.7,955.7L1302.5,955.7L1303.3,955.9L1304.1,956.0L1304.9,955.9L1305.7,955.7L1306.5,955.7L1307.3,955.4L1308.1,955.6L1308.9,955.1L1309.7,955.5L1310.5,955.8L1311.3,955.7L1312.1,955.5L1312.9,955.8L1313.7,955.6L1314.5,955.9L1315.3,956.2L1316.1,955.8L1316.9,955.4L1317.7,955.8L1318.5,955.8L1319.3,956.0L1320.1,955.7L1320.9,956.1L1321.7,956.1L1322.5,955.9L1323.3,955.8L1324.1,955.7L1324.9,955.4L1325.7,955.6L1326.5,955.9L1327.3,955.8L1328.1,955.8L1328.9,955.8L1329.7,956.0L1330.5,956.0L1331.3,956.0L1332.1,956.1L1332.9,955.8L1333.7,955.3L1334.5,956.0L1335.3,956.2L1336.1,956.2L1336.9,956.2L1337.7,956.2L1338.5,956.1L1339.3,956.0L1340.1,955.7L1340.9,955.7L1341.7,956.2L1342.5,956.2L1343.3,956.2L1344.1,956.2L1344.9,956.1L1345.7,955.9L1346.5,955.9L1347.3,955.8L1348.1,956.2L1348.9,956.1L1349.7,956.1L1350.5,956.2L1351.3,956.2L1352.1,956.2L1352.9,956.2L1353.7,956.2L1354.5,956.2L1355.3,956.1L1356.1,955.9L1356.9,955.8L1357.7,956.0L1358.5,956.2L1359.3,956.2L1360.1,956.1L1360.9,956.1L1361.7,955.8L1362.5,956.0L1363.3,956.2L1364.1,956.2L1364.9,956.2L1365.7,956.2L1366.5,956.1L1367.3,956.2L1368.1,956.2L1368.9,956.2L1369.7,956.2L1370.5,956.2L1371.3,956.2L1372.1,956.2L1372.9,956.2L1373.7,956.2L1374.5,956.2L1375.3,956.2L1376.1,956.1L1376.9,956.2L1377.7,956.2L1378.5,956.2L1379.3,956.2L1380.1,956.2L1380.9,956.2L1381.7,956.2L1382.5,956.2L1383.3,956.2L1384.1,956.2L1384.9,956.2L1385.7,956.2L1386.5,956.2L1387.3,956.2L1388.1,956.2L1388.9,956.2L1389.7,956.2L1390.5,956.2L1391.3,956.2L1392.1,956.2L1392.9,956.2L1393.7,956.2L1394.5,956.2L1395.3,956.2L1396.1,956.2L1396.9,956.2L1397.7,956.2L1398.5,956.2L1399.3,956.2L1400.1,956.2L1400.9,956.2L1401.7,956.2L1402.5,956.2L1403.3,956.2L1404.1,956.2L1404.9,956.2L1405.7,956.2L1406.5,956.2L1407.3,956.2L1408.1,956.2L1408.9,956.2L1409.7,956.2L1410.5,956.2L1411.3,956.2L1412.1,956.2L1412.9,956.2L1413.7,956.2L1414.5,956.2L1415.3,956.2L1416.1,956.2L1416.9,956.2L1417.7,956.2L1418.5,956.2L1419.3,956.2L1420.1,956.2L1420.9,956.2L1421.7,956.2L1422.5,956.2L1423.3,956.2L1424.1,956.2L1424.9,956.2L1425.7,956.2L1426.5,956.2L1427.3,956.2L1428.1,956.2L1428.9,956.2L1429.7,956.2L1430.5,956.2L1431.3,956.2L1432.1,956.2L1432.9,956.2L1433.7,956.2L1434.5,956.2L1435.3,956.2L1436.1,956.2L1436.9,956.2L1437.7,956.2L1438.5,956.2L1439.3,956.2L1440.1,956.2L1440.9,956.2L1441.7,956.2L1442.5,956.2L1443.3,956.2L1444.1,956.2L1444.9,956.2L1445.7,956.2L1446.5,956.2L1447.3,956.2L1448.1,956.2L1448.9,956.2L1449.7,956.2L1450.5,956.2L1451.3,956.2L1452.1,956.2L1452.9,956.2L1453.7,956.2L1454.5,956.2L1455.3,956.2L1456.1,956.2L1456.9,956.2L1457.7,956.2L1458.5,956.2L1459.3,956.2L1460.1,956.2L1460.9,956.2L1461.7,956.2L1462.5,956.2L1463.3,956.2L1464.1,956.2L1464.9,956.2L1465.7,956.2L1466.5,956.2L1467.3,956.2L1468.1,956.2L1468.9,956.2L1469.7,956.2L1470.5,956.2L1471.3,956.2L1472.1,956.2L1472.9,956.2L1473.7,956.2L1474.5,956.2L1475.3,956.2L1476.1,956.2L1476.9,956.2L1477.7,956.2L1478.5,956.2L1479.3,956.2L1480.1,956.2L1480.9,956.2L1481.7,956.2L1482.5,956.2L1483.3,956.2L1484.1,956.2L1484.9,956.2L1485.7,956.2L1486.5,956.2L1487.3,956.2L1488.1,956.2L1488.9,956.2L1489.7,956.2L1490.5,956.2L1491.3,956.2L1492.1,956.2L1492.9,956.2L1493.7,956.2L1494.5,956.2L1495.3,956.2L1496.1,956.2L1496.9,956.2L1497.7,956.2L1498.5,956.2L1499.3,956.2L1500.1,956.2L1500.9,956.2L1501.7,956.2L1502.5,956.2L1503.3,956.2L1504.1,956.2L1504.9,956.2L1505.7,956.2L1506.5,956.2L1507.3,956.2L1508.1,956.2L1508.9,956.2L1509.7,956.2L1510.5,956.2L1511.3,956.2L1512.1,956.2L1512.9,956.2L1513.7,956.2L1514.5,956.2L1515.3,956.2L1516.1,956.2L1516.9,956.2L1517.7,956.2L1518.5,956.2L1519.3,956.2L1520.1,956.2L1520.9,956.2L1521.7,956.2L1522.5,956.2L1523.3,956.2L1524.1,956.2L1524.9,956.2L1525.7,956.2L1526.5,956.2L1527.3,956.2L1528.1,956.2L1528.9,956.2L1529.7,956.2L1530.5,956.2L1531.3,956.2L1532.1,956.2L1532.9,956.2L1533.7,956.2L1534.5,956.2L1535.3,956.2L1536.1,956.2L1536.9,956.2L1537.7,956.2L1538.5,956.2L1539.3,956.2L1540.1,956.2L1540.9,956.2L1541.7,956.2L1542.5,956.2L1543.3,956.2L1544.1,956.2L1544.9,956.2L1545.7,956.2L1546.5,956.2L1547.3,956.2L1548.1,956.2L1548.9,956.2L1549.7,956.2L1550.5,956.2L1551.3,956.2L1552.1,956.2L1552.9,956.2L1553.7,956.2L1554.5,956.2L1555.3,956.2L1556.1,956.2L1556.9,956.2L1557.7,956.2L1558.5,956.2L1559.3,956.2L1560.1,956.2L1560.9,956.2L1561.7,956.2L1562.5,956.2L1563.3,956.2L1564.1,956.2L1564.9,956.2L1565.7,956.2L1566.5,956.2L1567.3,956.2L1568.1,956.2L1568.9,956.2L1569.7,956.2L1570.5,956.2L1571.3,956.2L1572.1,956.2L1572.9,956.2L1573.7,956.2L1574.5,956.2L1575.3,956.2L1576.1,956.2L1576.9,956.2L1577.7,956.2L1578.5,956.2L1579.3,956.2L1580.1,956.2L1580.9,956.2L1581.7,956.2L1582.5,956.2L1583.3,956.2L1584.1,956.2L1584.9,956.2L1585.7,956.2L1586.5,956.2L1587.3,956.2L1588.1,956.2L1588.9,956.2L1589.7,956.2L1590.5,956.2L1591.3,956.2L1592.1,956.2L1592.9,956.2L1593.7,956.2L1594.5,956.2L1595.3,956.2L1596.1,956.2L1596.9,956.2L1597.7,956.2L1598.5,956.2L1599.3,956.2L1600.1,956.2L1600.9,956.2L1601.7,956.2L1602.5,956.2L1603.3,956.2L1604.1,956.2L1604.9,956.2L1605.7,956.2L1606.5,956.2L1607.3,956.2L1608.1,956.2L1608.9,956.2L1609.7,956.2L1610.5,956.2L1611.3,956.2L1612.1,956.2L1612.9,956.2L1613.7,956.2L1614.5,956.2L1615.3,956.2L1616.1,956.2L1616.9,956.2L1617.7,956.2L1618.5,956.2L1619.3,956.2L1620.1,956.2L1620.9,956.2L1621.7,956.2L1622.5,956.2L1623.3,956.2L1624.1,956.2L1624.9,956.2L1625.7,956.2L1626.5,956.2L1627.3,956.2L1628.1,956.2L1628.9,956.2L1629.7,956.2L1630.5,956.2L1631.3,956.2L1632.1,956.2L1632.9,956.2L1633.7,956.2L1634.5,956.2L1635.3,956.2L1636.1,956.2L1636.9,956.2L1637.7,956.2L1638.5,956.2L1639.3,956.2L1640.1,956.2L1640.9,956.2L1641.7,956.2L1642.5,956.2L1643.3,956.2L1644.1,956.2L1644.9,956.2L1645.7,956.2L1646.5,956.2L1647.3,956.2L1648.1,956.2L1648.9,956.2L1649.7,956.2L1650.5,956.2L1651.3,956.2L1652.1,956.2L1652.9,956.2L1653.7,956.2L1654.5,956.2L1655.3,956.2L1656.1,956.2L1656.9,956.2L1657.7,956.2L1658.5,956.2L1659.3,956.2L1660.1,956.2L1660.9,956.2L1661.7,956.2L1662.5,956.2L1663.3,956.2L1664.1,956.2L1664.9,956.2L1665.7,956.2L1666.5,956.2L1667.3,956.2L1668.1,956.2L1668.9,956.2L1669.7,956.2L1670.5,956.2L1671.3,956.2L1672.1,956.2L1672.9,956.2L1673.7,956.2L1674.5,956.2L1675.3,956.2L1676.1,956.2L1676.9,956.2L1677.7,956.2L1678.5,956.2L1679.3,956.2L1680.1,956.2L1680.9,956.2L1681.7,956.2L1682.5,956.2L1683.3,956.2L1684.1,956.2L1684.9,956.2L1685.7,956.2L1686.5,956.2L1687.3,956.2L1688.1,956.2L1688.9,956.2L1689.7,956.2L1690.5,956.2L1691.3,956.2L1692.1,956.2L1692.9,956.2L1693.7,956.2L1694.5,956.2L1695.3,956.2L1696.1,956.2L1696.9,956.2L1697.7,956.2L1698.5,956.2L1699.3,956.2L1700.1,956.2L1700.9,956.2L1701.7,956.2L1702.5,956.2L1703.3,956.2L1704.1,956.2L1704.9,956.2L1705.7,956.2L1706.5,956.2L1707.3,956.2L1708.1,956.2L1708.9,956.2L1709.7,956.2L1710.5,956.2L1711.3,956.2L1712.1,956.2L1712.9,956.2L1713.7,956.2L1714.5,956.2L1715.3,956.2L1716.1,956.2L1716.9,956.2L1717.7,956.2L1718.5,956.2L1719.3,956.2L1720.1,956.2L1720.9,956.2L1721.7,956.2L1722.5,956.2L1723.3,956.2L1724.1,956.2L1724.9,956.2L1725.7,956.2L1726.5,956.2L1727.3,956.2L1728.1,956.2L1728.9,956.2L1729.7,956.2L1730.5,956.2L1731.3,956.2L1732.1,956.2L1732.9,956.2L1733.7,956.2L1734.5,956.2L1735.3,956.2L1736.1,956.2L1736.9,956.2L1737.7,956.2L1738.5,956.2L1739.3,956.2L1740.1,956.2L1740.9,956.2L1741.7,956.2L1742.5,956.2L1743.3,956.2L1744.1,956.2L1744.9,956.2L1745.7,956.2L1746.5,956.2L1747.3,956.2L1748.1,956.2L1748.9,956.2L1749.7,956.2L1750.5,956.2L1751.3,956.2L1752.1,956.2L1752.9,956.2L1753.7,956.2L1754.5,956.2L1755.3,956.2L1756.1,956.2L1756.9,956.2L1757.7,956.2L1758.5,956.2L1759.3,956.2L1760.1,956.2L1760.9,956.2L1761.7,956.2L1762.5,956.2L1763.3,956.2L1764.1,956.2L1764.9,956.2L1765.7,956.2L1766.5,956.2L1767.3,956.2L1768.1,956.2L1768.9,956.2L1769.7,956.2L1770.5,956.2L1771.3,956.2L1772.1,956.2L1772.9,956.2L1773.7,956.2L1774.5,956.2L1775.3,956.2L1776.1,956.2L1776.9,956.2L1777.7,956.2L1778.5,956.2L1779.3,956.2L1780.1,956.2L1780.9,956.2L1781.7,956.2L1782.5,956.2L1783.3,956.2L1784.1,956.2L1784.9,956.2L1785.7,956.2L1786.5,956.2L1787.3,956.2L1788.1,956.2L1788.9,956.2L1789.7,956.2L1790.5,956.2L1791.3,956.2L1792.1,956.2L1792.9,956.2L1793.7,956.2L1794.5,956.2L1795.3,956.2L1796.1,956.2L1796.9,956.2L1797.7,956.2L1798.5,956.2L1799.3,956.2L1800.1,956.2L1800.9,956.2L1801.7,956.2L1802.5,956.2L1803.3,956.2L1804.1,956.2L1804.9,956.2L1805.7,956.2L1806.5,956.2L1807.3,956.2L1808.1,956.2L1808.9,956.2L1809.7,956.2L1810.5,956.2L1811.3,956.2L1812.1,956.2L1812.9,956.2L1813.4,956.2Z" fill="#c81a1a" stroke="#c80a0a" stroke-width="1" stroke-linejoin="round"/>
<line x1="251.8" x2="251.8" y1="592.2" y2="956.2" stroke="#00ff80" stroke-opacity="0.75" stroke-width="2.4"/>
<line x1="255.6" x2="255.6" y1="945.5" y2="956.2" stroke="#00ff80" stroke-opacity="0.75" stroke-width="2.1"/>
<line x1="260.5" x2="260.5" y1="592.2" y2="956.2" stroke="#ff8000" stroke-opacity="0.75" stroke-width="2.4"/>
<line x1="269.6" x2="269.6" y1="592.2" y2="956.2" stroke="#ff8000" stroke-opacity="0.75" stroke-width="2.4"/>
<line x1="294.2" x2="294.2" y1="592.2" y2="956.2" stroke="#00ff00" stroke-opacity="0.75" stroke-width="2.6"/>
<line x1="295.2" x2="295.2" y1="862.7" y2="956.2" stroke="#00ff00" stroke-opacity="0.75" stroke-width="2.2"/>
<line x1="287.1" x2="287.1" y1="854.7" y2="956.2" stroke="#00ff00" stroke-opacity="0.75" stroke-width="2.4"/>
<line x1="298.6" x2="298.6" y1="949.5" y2="956.2" stroke="#00ff00" stroke-opacity="0.75" stroke-width="2.1"/>
<line x1="305.7" x2="305.7" y1="592.2" y2="956.2" stroke="#00ffff" stroke-opacity="0.75" stroke-width="2.6"/>
<line x1="306.9" x2="306.9" y1="856.0" y2="956.2" stroke="#00ffff" stroke-opacity="0.75" stroke-width="2.2"/>
<line x1="297.2" x2="297.2" y1="886.1" y2="956.2" stroke="#00ffff" stroke-opacity="0.75" stroke-width="2.4"/>
<line x1="312.7" x2="312.7" y1="948.2" y2="956.2" stroke="#00ffff" stroke-opacity="0.75" stroke-width="2.1"/>
<line x1="375.7" x2="375.7" y1="592.2" y2="956.2" stroke="#ff00ff" stroke-opacity="0.75" stroke-width="2.4"/>
<line x1="383.3" x2="383.3" y1="938.2" y2="956.2" stroke="#ff00ff" stroke-opacity="0.75" stroke-width="2.4"/>
<line x1="420.4" x2="420.4" y1="592.2" y2="956.2" stroke="#00ff80" stroke-opacity="0.75" stroke-width="2.4"/>
<line x1="432.7" x2="432.7" y1="936.2" y2="956.2" stroke="#00ff80" stroke-opacity="0.75" stroke-width="2.4"/>
<line x1="743.0" x2="743.0" y1="592.2" y2="956.2" stroke="#00ff00" stroke-opacity="0.75" stroke-width="2.2"/>
<line x1="742.0" x2="742.0" y1="772.6" y2="956.2" stroke="#00ff00" stroke-opacity="0.75" stroke-width="2.4"/>
<line x1="794.5" x2="794.5" y1="906.1" y2="956.2" stroke="#00ff00" stroke-opacity="0.75" stroke-width="2.4"/>
<line x1="827.6" x2="827.6" y1="592.2" y2="956.2" stroke="#00ffff" stroke-opacity="0.75" stroke-width="2.2"/>
<line x1="826.3" x2="826.3" y1="772.6" y2="956.2" stroke="#00ffff" stroke-opacity="0.75" stroke-width="2.4"/>
<line x1="889.6" x2="889.6" y1="904.1" y2="956.2" stroke="#00ffff" stroke-opacity="0.75" stroke-width="2.4"/>
<rect x="250.3" y="378.1" width="38.5" height="45.9" fill="#ff8000" fill-opacity="0.75"/>
<text x="261.49" y="410.30" font-size="30.5" textLength="21.92" lengthAdjust="spacingAndGlyphs" fill="#333" fill-opacity="0.62">N</text>
<rect x="241.7" y="431.2" width="37.6" height="45.9" fill="#ff8000" fill-opacity="0.75"/>
<text x="255.68" y="463.40" font-size="30.5" textLength="17.86" lengthAdjust="spacingAndGlyphs" fill="#333" fill-opacity="0.62">C</text>
<rect x="233.0" y="486.4" width="34.9" height="45.9" fill="#00ff80" fill-opacity="0.75"/>
<text x="244.69" y="518.60" font-size="30.5" textLength="16.24" lengthAdjust="spacingAndGlyphs" fill="#333" fill-opacity="0.62">S</text>
<rect x="282.3" y="486.4" width="47.7" height="45.9" fill="#00ffff" fill-opacity="0.75"/>
<text x="294.96" y="518.60" font-size="30.5" textLength="29.46" lengthAdjust="spacingAndGlyphs" fill="#333" fill-opacity="0.62">Ni</text>
<rect x="270.1" y="541.6" width="49.0" height="45.9" fill="#00ff00" fill-opacity="0.75"/>
<text x="282.29" y="573.80" font-size="30.5" textLength="29.48" lengthAdjust="spacingAndGlyphs" fill="#333" fill-opacity="0.62">Fe</text>
<rect x="355.5" y="541.6" width="40.5" height="45.9" fill="#ff00ff" fill-opacity="0.75"/>
<text x="367.27" y="573.80" font-size="30.5" textLength="23.75" lengthAdjust="spacingAndGlyphs" fill="#333" fill-opacity="0.62">Si</text>
<rect x="402.9" y="541.6" width="34.9" height="45.9" fill="#00ff80" fill-opacity="0.75"/>
<text x="415.83" y="573.80" font-size="30.5" textLength="16.24" lengthAdjust="spacingAndGlyphs" fill="#333" fill-opacity="0.62">S</text>
<rect x="718.9" y="541.6" width="49.0" height="45.9" fill="#00ff00" fill-opacity="0.75"/>
<text x="731.09" y="573.80" font-size="30.5" textLength="29.48" lengthAdjust="spacingAndGlyphs" fill="#333" fill-opacity="0.62">Fe</text>
<rect x="804.1" y="541.6" width="47.7" height="45.9" fill="#00ffff" fill-opacity="0.75"/>
<text x="816.84" y="573.80" font-size="30.5" textLength="29.46" lengthAdjust="spacingAndGlyphs" fill="#333" fill-opacity="0.62">Ni</text>
</g>
<g stroke="#000" fill="none" stroke-linecap="square"><path d="M246.3,48.4V956.2" stroke-width="3.0"/><path d="M246.3,48.4H1813.4" stroke-width="3.2"/><path d="M1813.0,48.4V956.2" stroke-width="4.4"/><path d="M246.3,956.6H1813.4" stroke-width="4.0"/></g>
<path d="M231.7,956.2H246.3M231.7,922.8H246.3M231.7,889.4H246.3M231.7,856.0H246.3M231.7,822.6H246.3M231.7,789.2H246.3M231.7,755.9H246.3M231.7,722.5H246.3M231.7,689.1H246.3M231.7,655.7H246.3M231.7,622.3H246.3M231.7,588.9H246.3M231.7,555.5H246.3M231.7,522.1H246.3M231.7,488.7H246.3M231.7,455.4H246.3M231.7,422.0H246.3M231.7,388.6H246.3M231.7,355.2H246.3M231.7,321.8H246.3M231.7,288.4H246.3M231.7,255.0H246.3M231.7,221.6H246.3M231.7,188.2H246.3M231.7,154.8H246.3M231.7,121.5H246.3M231.7,88.1H246.3M231.7,54.7H246.3M278.1,956.2V970.4M317.4,956.2V970.4M356.8,956.2V970.4M396.2,956.2V978.4M435.6,956.2V970.4M474.9,956.2V970.4M514.3,956.2V970.4M553.7,956.2V978.4M593.1,956.2V970.4M632.5,956.2V970.4M671.8,956.2V970.4M711.2,956.2V978.4M750.6,956.2V970.4M790.0,956.2V970.4M829.3,956.2V970.4M868.7,956.2V978.4M908.1,956.2V970.4M947.5,956.2V970.4M986.8,956.2V970.4M1026.2,956.2V978.4M1065.6,956.2V970.4M1105.0,956.2V970.4M1144.3,956.2V970.4M1183.7,956.2V978.4M1223.1,956.2V970.4M1262.5,956.2V970.4M1301.8,956.2V970.4M1341.2,956.2V978.4M1380.6,956.2V970.4M1420.0,956.2V970.4M1459.3,956.2V970.4M1498.7,956.2V978.4M1538.1,956.2V970.4M1577.5,956.2V970.4M1616.8,956.2V970.4M1656.2,956.2V978.4M1695.6,956.2V970.4M1735.0,956.2V970.4M1774.3,956.2V970.4M1813.7,956.2V978.4" stroke="#000" stroke-width="3.0" fill="none"/>
<text x="204.21" y="972.60" font-size="38" textLength="21.44" lengthAdjust="spacingAndGlyphs" fill="#0a0a0a" stroke="#0a0a0a" stroke-width="0.5" stroke-linejoin="round">0</text>
<text x="203.72" y="839.04" font-size="38" textLength="22.61" lengthAdjust="spacingAndGlyphs" fill="#0a0a0a" stroke="#0a0a0a" stroke-width="0.5" stroke-linejoin="round">2</text>
<text x="205.02" y="705.48" font-size="38" textLength="20.17" lengthAdjust="spacingAndGlyphs" fill="#0a0a0a" stroke="#0a0a0a" stroke-width="0.5" stroke-linejoin="round">4</text>
<text x="203.76" y="571.92" font-size="38" textLength="22.13" lengthAdjust="spacingAndGlyphs" fill="#0a0a0a" stroke="#0a0a0a" stroke-width="0.5" stroke-linejoin="round">6</text>
<text x="204.19" y="438.36" font-size="38" textLength="21.66" lengthAdjust="spacingAndGlyphs" fill="#0a0a0a" stroke="#0a0a0a" stroke-width="0.5" stroke-linejoin="round">8</text>
<text x="183.84" y="304.80" font-size="38" textLength="40.16" lengthAdjust="spacingAndGlyphs" fill="#0a0a0a" stroke="#0a0a0a" stroke-width="0.5" stroke-linejoin="round">10</text>
<text x="183.80" y="171.24" font-size="38" textLength="40.77" lengthAdjust="spacingAndGlyphs" fill="#0a0a0a" stroke="#0a0a0a" stroke-width="0.5" stroke-linejoin="round">12</text>
<text x="386.13" y="1020.30" font-size="38" textLength="20.78" lengthAdjust="spacingAndGlyphs" fill="#0a0a0a" stroke="#0a0a0a" stroke-width="0.5" stroke-linejoin="round">2</text>
<text x="544.83" y="1020.30" font-size="38" textLength="18.54" lengthAdjust="spacingAndGlyphs" fill="#0a0a0a" stroke="#0a0a0a" stroke-width="0.5" stroke-linejoin="round">4</text>
<text x="701.17" y="1020.30" font-size="38" textLength="20.33" lengthAdjust="spacingAndGlyphs" fill="#0a0a0a" stroke="#0a0a0a" stroke-width="0.5" stroke-linejoin="round">6</text>
<text x="859.07" y="1020.30" font-size="38" textLength="19.91" lengthAdjust="spacingAndGlyphs" fill="#0a0a0a" stroke="#0a0a0a" stroke-width="0.5" stroke-linejoin="round">8</text>
<text x="1005.14" y="1020.30" font-size="38" textLength="41.71" lengthAdjust="spacingAndGlyphs" fill="#0a0a0a" stroke="#0a0a0a" stroke-width="0.5" stroke-linejoin="round">10</text>
<text x="1162.59" y="1020.30" font-size="38" textLength="42.35" lengthAdjust="spacingAndGlyphs" fill="#0a0a0a" stroke="#0a0a0a" stroke-width="0.5" stroke-linejoin="round">12</text>
<text x="1320.17" y="1020.30" font-size="38" textLength="41.30" lengthAdjust="spacingAndGlyphs" fill="#0a0a0a" stroke="#0a0a0a" stroke-width="0.5" stroke-linejoin="round">14</text>
<text x="1477.62" y="1020.30" font-size="38" textLength="41.92" lengthAdjust="spacingAndGlyphs" fill="#0a0a0a" stroke="#0a0a0a" stroke-width="0.5" stroke-linejoin="round">16</text>
<text x="1635.12" y="1020.30" font-size="38" textLength="41.92" lengthAdjust="spacingAndGlyphs" fill="#0a0a0a" stroke="#0a0a0a" stroke-width="0.5" stroke-linejoin="round">18</text>
<text x="1779.72" y="1020.30" font-size="38" textLength="40.70" lengthAdjust="spacingAndGlyphs" fill="#0a0a0a" stroke="#0a0a0a" stroke-width="0.5" stroke-linejoin="round">20</text>
<text x="255.18" y="35.20" font-size="38" textLength="112.65" lengthAdjust="spacingAndGlyphs" fill="#0a0a0a" stroke="#0a0a0a" stroke-width="0.5" stroke-linejoin="round">cps/eV</text>
<text x="922.70" y="1073.40" font-size="38" textLength="211.45" lengthAdjust="spacingAndGlyphs" fill="#0a0a0a" stroke="#0a0a0a" stroke-width="0.5" stroke-linejoin="round">Energy [keV]</text>
<rect x="1340.4" y="48.4" width="473.0" height="54.5" fill="#fff" stroke="#222" stroke-width="1.6"/>
<line x1="1354.7" x2="1411.8" y1="73.2" y2="73.2" stroke="#e25a5a" stroke-width="2.4"/>
<text x="1464.47" y="84.40" font-size="30" textLength="291.84" lengthAdjust="spacingAndGlyphs" fill="#0a0a0a" stroke="#0a0a0a" stroke-width="0.45" stroke-linejoin="round">1.00 * Acquisition 3235</text>
<g stroke="#000" fill="none" stroke-linecap="square"><path d="M246.3,48.4V956.2" stroke-width="3.0"/><path d="M246.3,48.4H1813.4" stroke-width="3.2"/><path d="M1813.0,48.4V956.2" stroke-width="4.4"/><path d="M246.3,956.6H1813.4" stroke-width="4.0"/></g>
</g>
</g>
<g id="table2">
<rect x="919.5" y="1352" width="1052.5" height="82.6" fill="#dcdcdc"/>
<rect x="919.5" y="1445.9" width="121.4" height="47" fill="#dcdcdc"/>
<rect x="919.5" y="1508.6" width="124.5" height="86.1" fill="#dcdcdc"/>
<text x="920.30" y="1341.60" font-size="28.5" textLength="219.86" lengthAdjust="spacingAndGlyphs" fill="#0a0a0a" stroke="#0a0a0a" stroke-width="0.6" stroke-linejoin="round">Acquisition 3234</text>
<text x="926.11" y="1404.00" font-size="28.5" textLength="109.44" lengthAdjust="spacingAndGlyphs" fill="#0a0a0a" stroke="#0a0a0a" stroke-width="0.6" stroke-linejoin="round">Element</text>
<text x="1051.30" y="1404.00" font-size="28.5" textLength="91.60" lengthAdjust="spacingAndGlyphs" fill="#0a0a0a" stroke="#0a0a0a" stroke-width="0.6" stroke-linejoin="round">At. No.</text>
<text x="1154.09" y="1404.00" font-size="28.5" textLength="77.92" lengthAdjust="spacingAndGlyphs" fill="#0a0a0a" stroke="#0a0a0a" stroke-width="0.6" stroke-linejoin="round">Netto</text>
<text x="1248.37" y="1382.40" font-size="28.5" textLength="69.52" lengthAdjust="spacingAndGlyphs" fill="#0a0a0a" stroke="#0a0a0a" stroke-width="0.6" stroke-linejoin="round">Mass</text>
<text x="1261.79" y="1424.20" font-size="28.5" textLength="43.62" lengthAdjust="spacingAndGlyphs" fill="#0a0a0a" stroke="#0a0a0a" stroke-width="0.6" stroke-linejoin="round">[%]</text>
<text x="1330.09" y="1382.40" font-size="28.5" textLength="162.30" lengthAdjust="spacingAndGlyphs" fill="#0a0a0a" stroke="#0a0a0a" stroke-width="0.6" stroke-linejoin="round">Mass Norm.</text>
<text x="1390.39" y="1424.20" font-size="28.5" textLength="43.62" lengthAdjust="spacingAndGlyphs" fill="#0a0a0a" stroke="#0a0a0a" stroke-width="0.6" stroke-linejoin="round">[%]</text>
<text x="1512.70" y="1382.40" font-size="28.5" textLength="72.80" lengthAdjust="spacingAndGlyphs" fill="#0a0a0a" stroke="#0a0a0a" stroke-width="0.6" stroke-linejoin="round">Atom</text>
<text x="1526.99" y="1424.20" font-size="28.5" textLength="43.62" lengthAdjust="spacingAndGlyphs" fill="#0a0a0a" stroke="#0a0a0a" stroke-width="0.6" stroke-linejoin="round">[%]</text>
<text x="1605.11" y="1382.40" font-size="28.5" textLength="178.99" lengthAdjust="spacingAndGlyphs" fill="#0a0a0a" stroke="#0a0a0a" stroke-width="0.6" stroke-linejoin="round">abs. error [%]</text>
<text x="1633.94" y="1424.20" font-size="28.5" textLength="122.20" lengthAdjust="spacingAndGlyphs" fill="#0a0a0a" stroke="#0a0a0a" stroke-width="0.6" stroke-linejoin="round">(1 sigma)</text>
<text x="1794.29" y="1382.40" font-size="28.5" textLength="170.05" lengthAdjust="spacingAndGlyphs" fill="#0a0a0a" stroke="#0a0a0a" stroke-width="0.6" stroke-linejoin="round">rel. error [%]</text>
<text x="1818.73" y="1424.20" font-size="28.5" textLength="122.81" lengthAdjust="spacingAndGlyphs" fill="#0a0a0a" stroke="#0a0a0a" stroke-width="0.6" stroke-linejoin="round">(1 sigma)</text>
<text x="920.76" y="1479.40" font-size="28.5" textLength="94.30" lengthAdjust="spacingAndGlyphs" fill="#0a0a0a" stroke="#0a0a0a" stroke-width="0.6" stroke-linejoin="round">Carbon</text>
<text x="1121.68" y="1479.40" font-size="28.5" textLength="15.79" lengthAdjust="spacingAndGlyphs" fill="#0a0a0a" stroke="#0a0a0a" stroke-width="0.6" stroke-linejoin="round">6</text>
<text x="1163.71" y="1479.40" font-size="28.5" textLength="66.22" lengthAdjust="spacingAndGlyphs" fill="#0a0a0a" stroke="#0a0a0a" stroke-width="0.6" stroke-linejoin="round">5599</text>
<text x="1256.74" y="1479.40" font-size="28.5" textLength="56.56" lengthAdjust="spacingAndGlyphs" fill="#0a0a0a" stroke="#0a0a0a" stroke-width="0.6" stroke-linejoin="round">3.83</text>
<text x="1409.84" y="1479.40" font-size="28.5" textLength="73.10" lengthAdjust="spacingAndGlyphs" fill="#0a0a0a" stroke="#0a0a0a" stroke-width="0.6" stroke-linejoin="round">23.75</text>
<text x="1510.51" y="1479.40" font-size="28.5" textLength="74.56" lengthAdjust="spacingAndGlyphs" fill="#0a0a0a" stroke="#0a0a0a" stroke-width="0.6" stroke-linejoin="round">57.17</text>
<text x="1715.33" y="1479.40" font-size="28.5" textLength="56.72" lengthAdjust="spacingAndGlyphs" fill="#0a0a0a" stroke="#0a0a0a" stroke-width="0.6" stroke-linejoin="round">0.61</text>
<text x="1877.30" y="1479.40" font-size="28.5" textLength="73.50" lengthAdjust="spacingAndGlyphs" fill="#0a0a0a" stroke="#0a0a0a" stroke-width="0.6" stroke-linejoin="round">16.00</text>
<text x="922.00" y="1538.40" font-size="28.5" textLength="117.92" lengthAdjust="spacingAndGlyphs" fill="#0a0a0a" stroke="#0a0a0a" stroke-width="0.6" stroke-linejoin="round">Nitrogen</text>
<text x="1123.76" y="1538.40" font-size="28.5" textLength="14.91" lengthAdjust="spacingAndGlyphs" fill="#ff1e1e" stroke="#ff1e1e" stroke-width="0.6" stroke-linejoin="round">7</text>
<text x="1183.03" y="1538.40" font-size="28.5" textLength="48.94" lengthAdjust="spacingAndGlyphs" fill="#ff1e1e" stroke="#ff1e1e" stroke-width="0.6" stroke-linejoin="round">225</text>
<text x="1258.92" y="1538.40" font-size="28.5" textLength="57.29" lengthAdjust="spacingAndGlyphs" fill="#ff1e1e" stroke="#ff1e1e" stroke-width="0.6" stroke-linejoin="round">0.22</text>
<text x="1428.15" y="1538.40" font-size="28.5" textLength="55.91" lengthAdjust="spacingAndGlyphs" fill="#ff1e1e" stroke="#ff1e1e" stroke-width="0.6" stroke-linejoin="round">1.34</text>
<text x="1530.26" y="1538.40" font-size="28.5" textLength="56.12" lengthAdjust="spacingAndGlyphs" fill="#ff1e1e" stroke="#ff1e1e" stroke-width="0.6" stroke-linejoin="round">2.77</text>
<text x="1717.72" y="1538.40" font-size="28.5" textLength="57.24" lengthAdjust="spacingAndGlyphs" fill="#ff1e1e" stroke="#ff1e1e" stroke-width="0.6" stroke-linejoin="round">0.10</text>
<text x="1879.92" y="1538.40" font-size="28.5" textLength="72.61" lengthAdjust="spacingAndGlyphs" fill="#ff1e1e" stroke="#ff1e1e" stroke-width="0.6" stroke-linejoin="round">48.23</text>
<text x="923.18" y="1582.50" font-size="28.5" textLength="76.69" lengthAdjust="spacingAndGlyphs" fill="#0a0a0a" stroke="#0a0a0a" stroke-width="0.6" stroke-linejoin="round">Sulfur</text>
<text x="1107.36" y="1582.50" font-size="28.5" textLength="31.75" lengthAdjust="spacingAndGlyphs" fill="#0a0a0a" stroke="#0a0a0a" stroke-width="0.6" stroke-linejoin="round">16</text>
<text x="1183.92" y="1582.50" font-size="28.5" textLength="48.18" lengthAdjust="spacingAndGlyphs" fill="#0a0a0a" stroke="#0a0a0a" stroke-width="0.6" stroke-linejoin="round">461</text>
<text x="1258.93" y="1582.50" font-size="28.5" textLength="56.98" lengthAdjust="spacingAndGlyphs" fill="#0a0a0a" stroke="#0a0a0a" stroke-width="0.6" stroke-linejoin="round">0.13</text>
<text x="1429.14" y="1582.50" font-size="28.5" textLength="56.24" lengthAdjust="spacingAndGlyphs" fill="#0a0a0a" stroke="#0a0a0a" stroke-width="0.6" stroke-linejoin="round">0.82</text>
<text x="1529.53" y="1582.50" font-size="28.5" textLength="56.94" lengthAdjust="spacingAndGlyphs" fill="#0a0a0a" stroke="#0a0a0a" stroke-width="0.6" stroke-linejoin="round">0.74</text>
<text x="1717.72" y="1582.50" font-size="28.5" textLength="57.40" lengthAdjust="spacingAndGlyphs" fill="#0a0a0a" stroke="#0a0a0a" stroke-width="0.6" stroke-linejoin="round">0.03</text>
<text x="1879.01" y="1582.50" font-size="28.5" textLength="74.56" lengthAdjust="spacingAndGlyphs" fill="#0a0a0a" stroke="#0a0a0a" stroke-width="0.6" stroke-linejoin="round">25.65</text>
</g>
</g>
</svg>
</body></html>
